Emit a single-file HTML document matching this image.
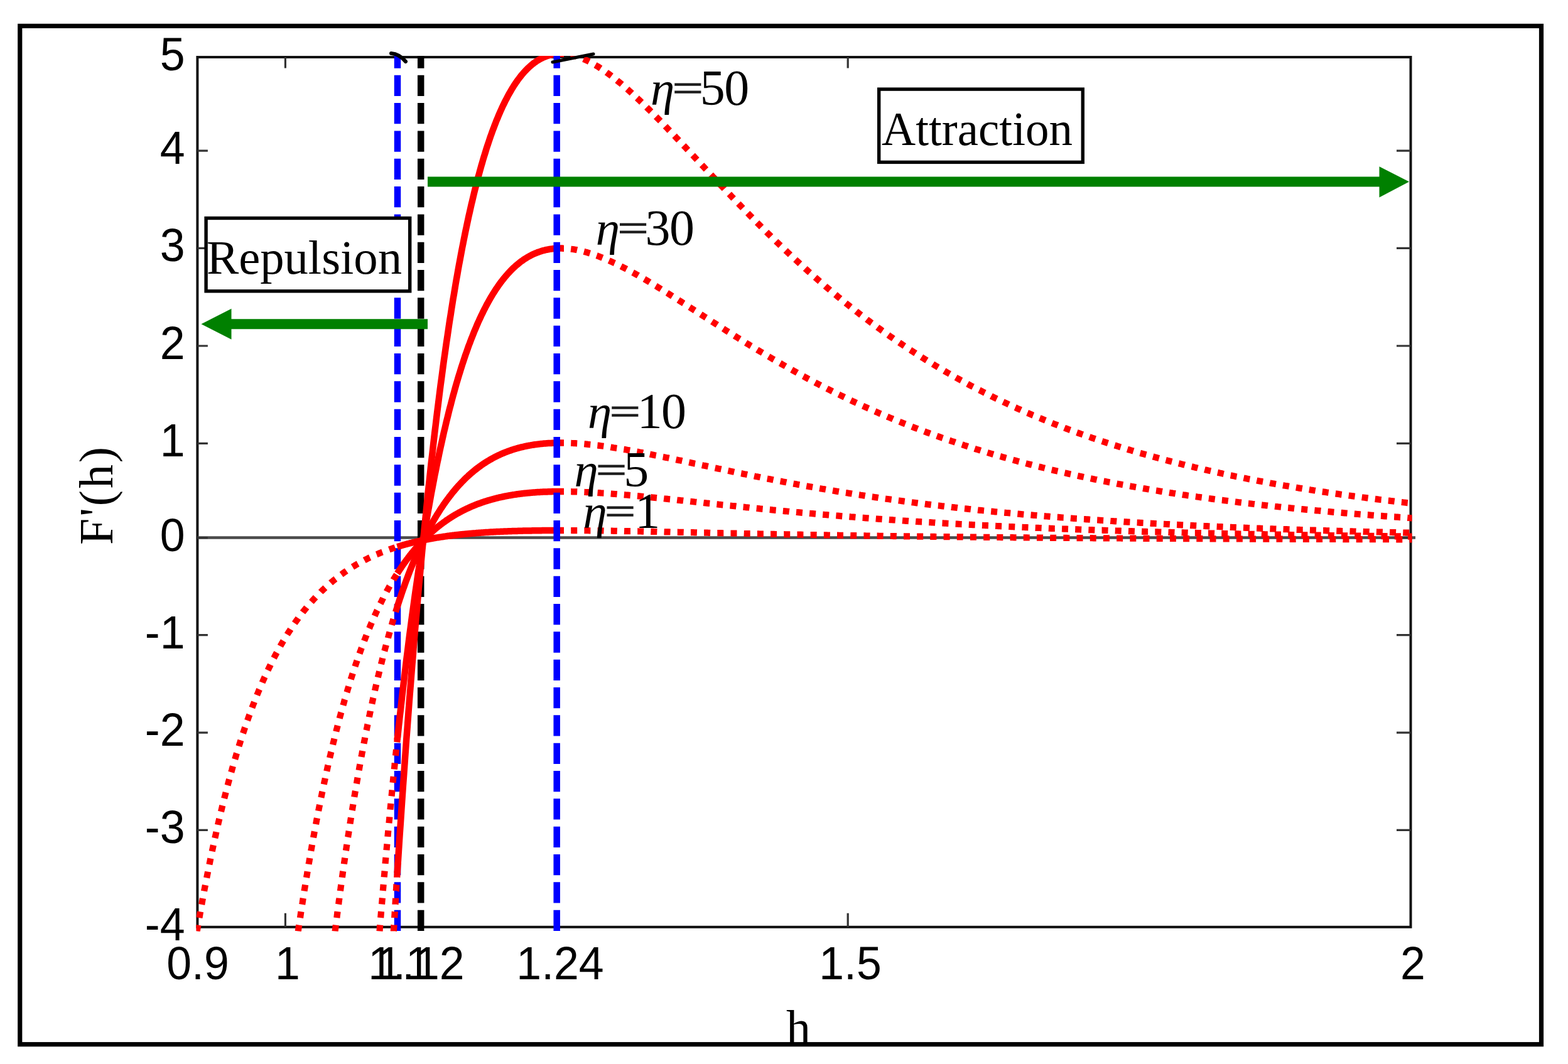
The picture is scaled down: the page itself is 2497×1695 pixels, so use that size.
<!DOCTYPE html>
<html lang="en"><head><meta charset="utf-8"><title>F'(h) versus h</title>
<style>html,body{margin:0;padding:0;background:#fff;width:2497px;height:1695px}svg{display:block;filter:blur(0.5px)}.sans{font-family:"Liberation Sans",sans-serif}.serif{font-family:"Liberation Serif",serif}</style></head><body>
<svg width="2497" height="1695" viewBox="0 0 2497 1695">
<rect x="0" y="0" width="2497" height="1695" fill="#fff"/>
<defs><clipPath id="plot"><rect x="312.4" y="89.0" width="1936.1" height="1394.8"/></clipPath></defs>
<rect x="314.4" y="91.0" width="1932.1" height="1385.8" fill="none" stroke="#111" stroke-width="4"/>
<line x1="314.4" y1="856.6" x2="2254" y2="856.6" stroke="#4a4a4a" stroke-width="4.5"/>
<path d="M314.4 240.2h16.5M2246.5 240.2h-22.5M314.4 395.4h16.5M2246.5 395.4h-22.5M314.4 551.0h16.5M2246.5 551.0h-22.5M314.4 706.4h16.5M2246.5 706.4h-22.5M314.4 856.6h16.5M2246.5 856.6h-22.5M314.4 1011.6h16.5M2246.5 1011.6h-22.5M314.4 1167.1h16.5M2246.5 1167.1h-22.5M314.4 1322.4h16.5M2246.5 1322.4h-22.5M454.4 91.0v17.5M454.4 1476.8v-22M1350.2 91.0v17.5M1350.2 1476.8v-22" fill="none" stroke="#333" stroke-width="3.2"/>
<g clip-path="url(#plot)">
<line x1="633.0" y1="75.4" x2="633.0" y2="1483" stroke="#0000ff" stroke-width="10.5" stroke-dasharray="33.3 11.03"/>
<line x1="670.2" y1="75.4" x2="670.2" y2="1483" stroke="#000" stroke-width="10.5" stroke-dasharray="33.3 11.03"/>
<path d="M313.7 1483.5 L314.8 1477.2 L315.8 1471.0 L316.9 1464.9 L318.0 1458.8 L319.0 1452.8 L320.1 1446.8 L321.2 1440.9 L322.2 1435.1 L323.3 1429.3 L324.4 1423.6 L325.4 1417.9 L326.5 1412.2 L327.6 1406.7 L328.6 1401.2 L329.7 1395.7 L330.8 1390.3 L331.8 1384.9 L332.9 1379.6 L334.0 1374.4 L335.0 1369.2 L336.1 1364.0 L337.2 1358.9 L338.2 1353.9 L339.3 1348.9 L340.4 1343.9 L341.4 1339.0 L342.5 1334.2 L343.6 1329.4 L344.6 1324.6 L345.7 1319.9 L346.8 1315.2 L347.8 1310.6 L348.9 1306.0 L350.0 1301.4 L351.0 1297.0 L352.1 1292.5 L353.2 1288.1 L354.2 1283.7 L355.3 1279.4 L356.4 1275.1 L357.4 1270.9 L358.5 1266.7 L359.6 1262.5 L360.6 1258.4 L361.7 1254.3 L362.8 1250.3 L363.8 1246.3 L364.9 1242.3 L366.0 1238.4 L367.0 1234.5 L368.1 1230.7 L369.2 1226.9 L370.2 1223.1 L371.3 1219.4 L372.4 1215.6 L373.4 1212.0 L374.5 1208.4 L375.6 1204.8 L376.6 1201.2 L377.7 1197.7 L378.8 1194.2 L379.8 1190.7 L380.9 1187.3 L382.0 1183.9 L383.0 1180.5 L384.1 1177.2 L385.2 1173.9 L386.2 1170.6 L387.3 1167.4 L388.4 1164.2 L389.4 1161.0 L390.5 1157.9 L391.6 1154.8 L392.6 1151.7 L393.7 1148.7 L394.8 1145.6 L395.8 1142.6 L396.9 1139.7 L398.0 1136.7 L399.0 1133.8 L400.1 1131.0 L401.2 1128.1 L402.2 1125.3 L403.3 1122.5 L404.4 1119.7 L405.4 1117.0 L406.5 1114.3 L407.6 1111.6 L408.6 1108.9 L409.7 1106.3 L410.8 1103.6 L411.8 1101.1 L412.9 1098.5 L414.0 1096.0 L415.0 1093.4 L416.1 1090.9 L417.2 1088.5 L418.2 1086.0 L419.3 1083.6 L420.4 1081.2 L421.4 1078.8 L422.5 1076.5 L423.6 1074.2 L424.6 1071.9 L425.7 1069.6 L426.8 1067.3 L427.8 1065.1 L428.9 1062.8 L430.0 1060.7 L431.0 1058.5 L432.1 1056.3 L433.2 1054.2 L434.2 1052.1 L435.3 1050.0 L436.4 1047.9 L437.4 1045.8 L438.5 1043.8 L439.6 1041.8 L440.6 1039.8 L441.7 1037.8 L442.8 1035.9 L443.8 1033.9 L444.9 1032.0 L446.0 1030.1 L447.0 1028.2 L448.1 1026.3 L449.2 1024.5 L450.2 1022.7 L451.3 1020.9 L452.4 1019.1 L453.4 1017.3 L454.5 1015.5 L455.6 1013.8 L456.6 1012.1 L457.7 1010.3 L458.8 1008.6 L459.8 1007.0 L460.9 1005.3 L462.0 1003.7 L463.0 1002.0 L464.1 1000.4 L465.2 998.8 L466.2 997.2 L467.3 995.7 L468.4 994.1 L469.4 992.6 L470.5 991.1 L471.6 989.5 L472.6 988.0 L473.7 986.6 L474.8 985.1 L475.8 983.6 L476.9 982.2 L478.0 980.8 L479.0 979.4 L480.1 978.0 L481.2 976.6 L482.2 975.2 L483.3 973.9 L484.4 972.5 L485.4 971.2 L486.5 969.9 L487.6 968.6 L488.6 967.3 L489.7 966.0 L490.8 964.7 L491.8 963.5 L492.9 962.2 L494.0 961.0 L495.0 959.8 L496.1 958.6 L497.2 957.4 L498.2 956.2 L499.3 955.0 L500.4 953.9 L501.4 952.7 L502.5 951.6 L503.6 950.4 L504.6 949.3 L505.7 948.2 L506.8 947.1 L507.8 946.0 L508.9 945.0 L510.0 943.9 L511.0 942.8 L512.1 941.8 L513.2 940.8 L514.2 939.7 L515.3 938.7 L516.4 937.7 L517.4 936.7 L518.5 935.7 L519.6 934.8 L520.6 933.8 L521.7 932.8 L522.8 931.9 L523.8 931.0 L524.9 930.0 L526.0 929.1 L527.0 928.2 L528.1 927.3 L529.2 926.4 L530.2 925.5 L531.3 924.6 L532.4 923.8 L533.4 922.9 L534.5 922.1 L535.6 921.2 L536.6 920.4 L537.7 919.6 L538.8 918.7 L539.8 917.9 L540.9 917.1 L542.0 916.3 L543.0 915.6 L544.1 914.8 L545.2 914.0 L546.2 913.2 L547.3 912.5 L548.4 911.7 L549.4 911.0 L550.5 910.3 L551.6 909.5 L552.6 908.8 L553.7 908.1 L554.8 907.4 L555.8 906.7 L556.9 906.0 L558.0 905.3 L559.0 904.6 L560.1 904.0 L561.2 903.3 L562.2 902.7 L563.3 902.0 L564.4 901.4 L565.4 900.7 L566.5 900.1 L567.6 899.5 L568.6 898.8 L569.7 898.2 L570.8 897.6 L571.8 897.0 L572.9 896.4 L574.0 895.8 L575.0 895.2 L576.1 894.7 L577.2 894.1 L578.2 893.5 L579.3 893.0 L580.4 892.4 L581.4 891.9 L582.5 891.3 L583.6 890.8 L584.6 890.3 L585.7 889.7 L586.8 889.2 L587.8 888.7 L588.9 888.2 L590.0 887.7 L591.1 887.2 L592.1 886.7 L593.2 886.2 L594.3 885.7 L595.3 885.2 L596.4 884.7 L597.5 884.3 L598.5 883.8 L599.6 883.3 L600.7 882.9 L601.7 882.4 L602.8 882.0 L603.9 881.5 L604.9 881.1 L606.0 880.6 L607.1 880.2 L608.1 879.8 L609.2 879.4 L610.3 878.9 L611.3 878.5 L612.4 878.1 L613.5 877.7 L614.5 877.3 L615.6 876.9 L616.7 876.5 L617.7 876.1 L618.8 875.8 L619.9 875.4 L620.9 875.0 L622.0 874.6 L623.1 874.3 L624.1 873.9 L625.2 873.5 L626.3 873.2 L627.3 872.8 L628.4 872.5 L629.5 872.1 L630.5 871.8 L631.6 871.4 L632.7 871.1 L633.7 870.8" fill="none" stroke="#ff0000" stroke-width="10.2" stroke-dasharray="10 11.6"/>
<path d="M898.0 845.0 L900.3 845.0 L902.5 845.0 L904.8 845.0 L907.0 845.0 L909.3 845.0 L911.6 845.1 L913.8 845.1 L916.1 845.1 L918.4 845.1 L920.6 845.1 L922.9 845.1 L925.1 845.1 L927.4 845.2 L929.7 845.2 L931.9 845.2 L934.2 845.2 L936.4 845.2 L938.7 845.3 L941.0 845.3 L943.2 845.3 L945.5 845.3 L947.7 845.4 L950.0 845.4 L952.3 845.4 L954.5 845.4 L956.8 845.5 L959.1 845.5 L961.3 845.5 L963.6 845.6 L965.8 845.6 L968.1 845.6 L970.4 845.7 L972.6 845.7 L974.9 845.7 L977.1 845.8 L979.4 845.8 L981.7 845.8 L983.9 845.9 L986.2 845.9 L988.5 845.9 L990.7 846.0 L993.0 846.0 L995.2 846.1 L997.5 846.1 L999.8 846.1 L1002.0 846.2 L1004.3 846.2 L1006.5 846.3 L1008.8 846.3 L1011.1 846.3 L1013.3 846.4 L1015.6 846.4 L1017.8 846.5 L1020.1 846.5 L1022.4 846.6 L1024.6 846.6 L1026.9 846.7 L1029.2 846.7 L1031.4 846.7 L1033.7 846.8 L1035.9 846.8 L1038.2 846.9 L1040.5 846.9 L1042.7 847.0 L1045.0 847.0 L1047.2 847.1 L1049.5 847.1 L1051.8 847.2 L1054.0 847.2 L1056.3 847.2 L1058.6 847.3 L1060.8 847.3 L1063.1 847.4 L1065.3 847.4 L1067.6 847.5 L1069.9 847.5 L1072.1 847.6 L1074.4 847.6 L1076.6 847.7 L1078.9 847.7 L1081.2 847.8 L1083.4 847.8 L1085.7 847.9 L1087.9 847.9 L1090.2 848.0 L1092.5 848.0 L1094.7 848.1 L1097.0 848.1 L1099.3 848.2 L1101.5 848.2 L1103.8 848.2 L1106.0 848.3 L1108.3 848.3 L1110.6 848.4 L1112.8 848.4 L1115.1 848.5 L1117.3 848.5 L1119.6 848.6 L1121.9 848.6 L1124.1 848.7 L1126.4 848.7 L1128.7 848.8 L1130.9 848.8 L1133.2 848.9 L1135.4 848.9 L1137.7 849.0 L1140.0 849.0 L1142.2 849.1 L1144.5 849.1 L1146.7 849.2 L1149.0 849.2 L1151.3 849.3 L1153.5 849.3 L1155.8 849.4 L1158.0 849.4 L1160.3 849.5 L1162.6 849.5 L1164.8 849.5 L1167.1 849.6 L1169.4 849.6 L1171.6 849.7 L1173.9 849.7 L1176.1 849.8 L1178.4 849.8 L1180.7 849.9 L1182.9 849.9 L1185.2 850.0 L1187.4 850.0 L1189.7 850.1 L1192.0 850.1 L1194.2 850.2 L1196.5 850.2 L1198.8 850.2 L1201.0 850.3 L1203.3 850.3 L1205.5 850.4 L1207.8 850.4 L1210.1 850.5 L1212.3 850.5 L1214.6 850.6 L1216.8 850.6 L1219.1 850.7 L1221.4 850.7 L1223.6 850.7 L1225.9 850.8 L1228.1 850.8 L1230.4 850.9 L1232.7 850.9 L1234.9 851.0 L1237.2 851.0 L1239.5 851.0 L1241.7 851.1 L1244.0 851.1 L1246.2 851.2 L1248.5 851.2 L1250.8 851.3 L1253.0 851.3 L1255.3 851.3 L1257.5 851.4 L1259.8 851.4 L1262.1 851.5 L1264.3 851.5 L1266.6 851.6 L1268.9 851.6 L1271.1 851.6 L1273.4 851.7 L1275.6 851.7 L1277.9 851.8 L1280.2 851.8 L1282.4 851.8 L1284.7 851.9 L1286.9 851.9 L1289.2 852.0 L1291.5 852.0 L1293.7 852.0 L1296.0 852.1 L1298.2 852.1 L1300.5 852.2 L1302.8 852.2 L1305.0 852.2 L1307.3 852.3 L1309.6 852.3 L1311.8 852.4 L1314.1 852.4 L1316.3 852.4 L1318.6 852.5 L1320.9 852.5 L1323.1 852.6 L1325.4 852.6 L1327.6 852.6 L1329.9 852.7 L1332.2 852.7 L1334.4 852.7 L1336.7 852.8 L1339.0 852.8 L1341.2 852.9 L1343.5 852.9 L1345.7 852.9 L1348.0 853.0 L1350.3 853.0 L1352.5 853.0 L1354.8 853.1 L1357.0 853.1 L1359.3 853.1 L1361.6 853.2 L1363.8 853.2 L1366.1 853.2 L1368.3 853.3 L1370.6 853.3 L1372.9 853.4 L1375.1 853.4 L1377.4 853.4 L1379.7 853.5 L1381.9 853.5 L1384.2 853.5 L1386.4 853.6 L1388.7 853.6 L1391.0 853.6 L1393.2 853.7 L1395.5 853.7 L1397.7 853.7 L1400.0 853.8 L1402.3 853.8 L1404.5 853.8 L1406.8 853.9 L1409.1 853.9 L1411.3 853.9 L1413.6 853.9 L1415.8 854.0 L1418.1 854.0 L1420.4 854.0 L1422.6 854.1 L1424.9 854.1 L1427.1 854.1 L1429.4 854.2 L1431.7 854.2 L1433.9 854.2 L1436.2 854.3 L1438.4 854.3 L1440.7 854.3 L1443.0 854.4 L1445.2 854.4 L1447.5 854.4 L1449.8 854.4 L1452.0 854.5 L1454.3 854.5 L1456.5 854.5 L1458.8 854.6 L1461.1 854.6 L1463.3 854.6 L1465.6 854.6 L1467.8 854.7 L1470.1 854.7 L1472.4 854.7 L1474.6 854.8 L1476.9 854.8 L1479.2 854.8 L1481.4 854.8 L1483.7 854.9 L1485.9 854.9 L1488.2 854.9 L1490.5 855.0 L1492.7 855.0 L1495.0 855.0 L1497.2 855.0 L1499.5 855.1 L1501.8 855.1 L1504.0 855.1 L1506.3 855.1 L1508.5 855.2 L1510.8 855.2 L1513.1 855.2 L1515.3 855.2 L1517.6 855.3 L1519.9 855.3 L1522.1 855.3 L1524.4 855.3 L1526.6 855.4 L1528.9 855.4 L1531.2 855.4 L1533.4 855.4 L1535.7 855.5 L1537.9 855.5 L1540.2 855.5 L1542.5 855.5 L1544.7 855.6 L1547.0 855.6 L1549.3 855.6 L1551.5 855.6 L1553.8 855.7 L1556.0 855.7 L1558.3 855.7 L1560.6 855.7 L1562.8 855.8 L1565.1 855.8 L1567.3 855.8 L1569.6 855.8 L1571.9 855.8 L1574.1 855.9 L1576.4 855.9 L1578.6 855.9 L1580.9 855.9 L1583.2 856.0 L1585.4 856.0 L1587.7 856.0 L1590.0 856.0 L1592.2 856.0 L1594.5 856.1 L1596.7 856.1 L1599.0 856.1 L1601.3 856.1 L1603.5 856.1 L1605.8 856.2 L1608.0 856.2 L1610.3 856.2 L1612.6 856.2 L1614.8 856.3 L1617.1 856.3 L1619.4 856.3 L1621.6 856.3 L1623.9 856.3 L1626.1 856.4 L1628.4 856.4 L1630.7 856.4 L1632.9 856.4 L1635.2 856.4 L1637.4 856.5 L1639.7 856.5 L1642.0 856.5 L1644.2 856.5 L1646.5 856.5 L1648.7 856.6 L1651.0 856.6 L1653.3 856.6 L1655.5 856.6 L1657.8 856.6 L1660.1 856.6 L1662.3 856.7 L1664.6 856.7 L1666.8 856.7 L1669.1 856.7 L1671.4 856.7 L1673.6 856.8 L1675.9 856.8 L1678.1 856.8 L1680.4 856.8 L1682.7 856.8 L1684.9 856.8 L1687.2 856.9 L1689.5 856.9 L1691.7 856.9 L1694.0 856.9 L1696.2 856.9 L1698.5 856.9 L1700.8 857.0 L1703.0 857.0 L1705.3 857.0 L1707.5 857.0 L1709.8 857.0 L1712.1 857.0 L1714.3 857.1 L1716.6 857.1 L1718.8 857.1 L1721.1 857.1 L1723.4 857.1 L1725.6 857.1 L1727.9 857.2 L1730.2 857.2 L1732.4 857.2 L1734.7 857.2 L1736.9 857.2 L1739.2 857.2 L1741.5 857.3 L1743.7 857.3 L1746.0 857.3 L1748.2 857.3 L1750.5 857.3 L1752.8 857.3 L1755.0 857.3 L1757.3 857.4 L1759.6 857.4 L1761.8 857.4 L1764.1 857.4 L1766.3 857.4 L1768.6 857.4 L1770.9 857.5 L1773.1 857.5 L1775.4 857.5 L1777.6 857.5 L1779.9 857.5 L1782.2 857.5 L1784.4 857.5 L1786.7 857.6 L1788.9 857.6 L1791.2 857.6 L1793.5 857.6 L1795.7 857.6 L1798.0 857.6 L1800.3 857.6 L1802.5 857.6 L1804.8 857.7 L1807.0 857.7 L1809.3 857.7 L1811.6 857.7 L1813.8 857.7 L1816.1 857.7 L1818.3 857.7 L1820.6 857.8 L1822.9 857.8 L1825.1 857.8 L1827.4 857.8 L1829.7 857.8 L1831.9 857.8 L1834.2 857.8 L1836.4 857.8 L1838.7 857.9 L1841.0 857.9 L1843.2 857.9 L1845.5 857.9 L1847.7 857.9 L1850.0 857.9 L1852.3 857.9 L1854.5 857.9 L1856.8 858.0 L1859.0 858.0 L1861.3 858.0 L1863.6 858.0 L1865.8 858.0 L1868.1 858.0 L1870.4 858.0 L1872.6 858.0 L1874.9 858.0 L1877.1 858.1 L1879.4 858.1 L1881.7 858.1 L1883.9 858.1 L1886.2 858.1 L1888.4 858.1 L1890.7 858.1 L1893.0 858.1 L1895.2 858.1 L1897.5 858.2 L1899.8 858.2 L1902.0 858.2 L1904.3 858.2 L1906.5 858.2 L1908.8 858.2 L1911.1 858.2 L1913.3 858.2 L1915.6 858.2 L1917.8 858.3 L1920.1 858.3 L1922.4 858.3 L1924.6 858.3 L1926.9 858.3 L1929.1 858.3 L1931.4 858.3 L1933.7 858.3 L1935.9 858.3 L1938.2 858.3 L1940.5 858.4 L1942.7 858.4 L1945.0 858.4 L1947.2 858.4 L1949.5 858.4 L1951.8 858.4 L1954.0 858.4 L1956.3 858.4 L1958.5 858.4 L1960.8 858.4 L1963.1 858.4 L1965.3 858.5 L1967.6 858.5 L1969.9 858.5 L1972.1 858.5 L1974.4 858.5 L1976.6 858.5 L1978.9 858.5 L1981.2 858.5 L1983.4 858.5 L1985.7 858.5 L1987.9 858.5 L1990.2 858.6 L1992.5 858.6 L1994.7 858.6 L1997.0 858.6 L1999.2 858.6 L2001.5 858.6 L2003.8 858.6 L2006.0 858.6 L2008.3 858.6 L2010.6 858.6 L2012.8 858.6 L2015.1 858.7 L2017.3 858.7 L2019.6 858.7 L2021.9 858.7 L2024.1 858.7 L2026.4 858.7 L2028.6 858.7 L2030.9 858.7 L2033.2 858.7 L2035.4 858.7 L2037.7 858.7 L2040.0 858.7 L2042.2 858.7 L2044.5 858.8 L2046.7 858.8 L2049.0 858.8 L2051.3 858.8 L2053.5 858.8 L2055.8 858.8 L2058.0 858.8 L2060.3 858.8 L2062.6 858.8 L2064.8 858.8 L2067.1 858.8 L2069.3 858.8 L2071.6 858.8 L2073.9 858.9 L2076.1 858.9 L2078.4 858.9 L2080.7 858.9 L2082.9 858.9 L2085.2 858.9 L2087.4 858.9 L2089.7 858.9 L2092.0 858.9 L2094.2 858.9 L2096.5 858.9 L2098.7 858.9 L2101.0 858.9 L2103.3 858.9 L2105.5 859.0 L2107.8 859.0 L2110.1 859.0 L2112.3 859.0 L2114.6 859.0 L2116.8 859.0 L2119.1 859.0 L2121.4 859.0 L2123.6 859.0 L2125.9 859.0 L2128.1 859.0 L2130.4 859.0 L2132.7 859.0 L2134.9 859.0 L2137.2 859.0 L2139.4 859.1 L2141.7 859.1 L2144.0 859.1 L2146.2 859.1 L2148.5 859.1 L2150.8 859.1 L2153.0 859.1 L2155.3 859.1 L2157.5 859.1 L2159.8 859.1 L2162.1 859.1 L2164.3 859.1 L2166.6 859.1 L2168.8 859.1 L2171.1 859.1 L2173.4 859.1 L2175.6 859.2 L2177.9 859.2 L2180.2 859.2 L2182.4 859.2 L2184.7 859.2 L2186.9 859.2 L2189.2 859.2 L2191.5 859.2 L2193.7 859.2 L2196.0 859.2 L2198.2 859.2 L2200.5 859.2 L2202.8 859.2 L2205.0 859.2 L2207.3 859.2 L2209.5 859.2 L2211.8 859.2 L2214.1 859.2 L2216.3 859.3 L2218.6 859.3 L2220.9 859.3 L2223.1 859.3 L2225.4 859.3 L2227.6 859.3 L2229.9 859.3 L2232.2 859.3 L2234.4 859.3 L2236.7 859.3 L2238.9 859.3 L2241.2 859.3 L2243.5 859.3 L2245.7 859.3 L2248.0 859.3 L2250.3 859.3 L2252.5 859.3 L2254.8 859.3" fill="none" stroke="#ff0000" stroke-width="10.2" stroke-dasharray="10 11.2" stroke-dashoffset="10"/>
<path d="M474.8 1483.5 L475.3 1479.9 L475.8 1476.3 L476.4 1472.7 L476.9 1469.1 L477.4 1465.6 L478.0 1462.1 L478.5 1458.6 L479.0 1455.1 L479.5 1451.6 L480.1 1448.1 L480.6 1444.7 L481.1 1441.3 L481.7 1437.8 L482.2 1434.4 L482.7 1431.1 L483.3 1427.7 L483.8 1424.4 L484.3 1421.0 L484.8 1417.7 L485.4 1414.4 L485.9 1411.1 L486.4 1407.9 L487.0 1404.6 L487.5 1401.4 L488.0 1398.2 L488.6 1395.0 L489.1 1391.8 L489.6 1388.6 L490.1 1385.4 L490.7 1382.3 L491.2 1379.2 L491.7 1376.0 L492.3 1372.9 L492.8 1369.9 L493.3 1366.8 L493.8 1363.7 L494.4 1360.7 L494.9 1357.7 L495.4 1354.7 L496.0 1351.7 L496.5 1348.7 L497.0 1345.7 L497.6 1342.8 L498.1 1339.8 L498.6 1336.9 L499.1 1334.0 L499.7 1331.1 L500.2 1328.2 L500.7 1325.3 L501.3 1322.5 L501.8 1319.6 L502.3 1316.8 L502.9 1314.0 L503.4 1311.2 L503.9 1308.4 L504.4 1305.6 L505.0 1302.9 L505.5 1300.1 L506.0 1297.4 L506.6 1294.7 L507.1 1292.0 L507.6 1289.3 L508.2 1286.6 L508.7 1283.9 L509.2 1281.3 L509.7 1278.6 L510.3 1276.0 L510.8 1273.4 L511.3 1270.8 L511.9 1268.2 L512.4 1265.6 L512.9 1263.0 L513.5 1260.5 L514.0 1257.9 L514.5 1255.4 L515.0 1252.9 L515.6 1250.4 L516.1 1247.9 L516.6 1245.4 L517.2 1242.9 L517.7 1240.5 L518.2 1238.0 L518.8 1235.6 L519.3 1233.2 L519.8 1230.8 L520.3 1228.4 L520.9 1226.0 L521.4 1223.6 L521.9 1221.2 L522.5 1218.9 L523.0 1216.5 L523.5 1214.2 L524.0 1211.9 L524.6 1209.6 L525.1 1207.3 L525.6 1205.0 L526.2 1202.7 L526.7 1200.5 L527.2 1198.2 L527.8 1196.0 L528.3 1193.7 L528.8 1191.5 L529.3 1189.3 L529.9 1187.1 L530.4 1184.9 L530.9 1182.7 L531.5 1180.6 L532.0 1178.4 L532.5 1176.3 L533.1 1174.1 L533.6 1172.0 L534.1 1169.9 L534.6 1167.8 L535.2 1165.7 L535.7 1163.6 L536.2 1161.5 L536.8 1159.5 L537.3 1157.4 L537.8 1155.4 L538.4 1153.4 L538.9 1151.3 L539.4 1149.3 L539.9 1147.3 L540.5 1145.3 L541.0 1143.3 L541.5 1141.4 L542.1 1139.4 L542.6 1137.4 L543.1 1135.5 L543.7 1133.6 L544.2 1131.6 L544.7 1129.7 L545.2 1127.8 L545.8 1125.9 L546.3 1124.0 L546.8 1122.1 L547.4 1120.3 L547.9 1118.4 L548.4 1116.5 L548.9 1114.7 L549.5 1112.9 L550.0 1111.0 L550.5 1109.2 L551.1 1107.4 L551.6 1105.6 L552.1 1103.8 L552.7 1102.0 L553.2 1100.3 L553.7 1098.5 L554.2 1096.8 L554.8 1095.0 L555.3 1093.3 L555.8 1091.5 L556.4 1089.8 L556.9 1088.1 L557.4 1086.4 L558.0 1084.7 L558.5 1083.0 L559.0 1081.3 L559.5 1079.7 L560.1 1078.0 L560.6 1076.3 L561.1 1074.7 L561.7 1073.1 L562.2 1071.4 L562.7 1069.8 L563.3 1068.2 L563.8 1066.6 L564.3 1065.0 L564.8 1063.4 L565.4 1061.8 L565.9 1060.2 L566.4 1058.7 L567.0 1057.1 L567.5 1055.6 L568.0 1054.0 L568.6 1052.5 L569.1 1050.9 L569.6 1049.4 L570.1 1047.9 L570.7 1046.4 L571.2 1044.9 L571.7 1043.4 L572.3 1041.9 L572.8 1040.5 L573.3 1039.0 L573.9 1037.5 L574.4 1036.1 L574.9 1034.6 L575.4 1033.2 L576.0 1031.7 L576.5 1030.3 L577.0 1028.9 L577.6 1027.5 L578.1 1026.1 L578.6 1024.7 L579.1 1023.3 L579.7 1021.9 L580.2 1020.5 L580.7 1019.2 L581.3 1017.8 L581.8 1016.4 L582.3 1015.1 L582.9 1013.7 L583.4 1012.4 L583.9 1011.1 L584.4 1009.8 L585.0 1008.4 L585.5 1007.1 L586.0 1005.8 L586.6 1004.5 L587.1 1003.2 L587.6 1002.0 L588.2 1000.7 L588.7 999.4 L589.2 998.1 L589.7 996.9 L590.3 995.6 L590.8 994.4 L591.3 993.1 L591.9 991.9 L592.4 990.7 L592.9 989.5 L593.5 988.2 L594.0 987.0 L594.5 985.8 L595.0 984.6 L595.6 983.4 L596.1 982.3 L596.6 981.1 L597.2 979.9 L597.7 978.7 L598.2 977.6 L598.8 976.4 L599.3 975.3 L599.8 974.1 L600.3 973.0 L600.9 971.9 L601.4 970.7 L601.9 969.6 L602.5 968.5 L603.0 967.4 L603.5 966.3 L604.1 965.2 L604.6 964.1 L605.1 963.0 L605.6 961.9 L606.2 960.8 L606.7 959.8 L607.2 958.7 L607.8 957.6 L608.3 956.6 L608.8 955.5 L609.3 954.5 L609.9 953.5 L610.4 952.4 L610.9 951.4 L611.5 950.4 L612.0 949.4 L612.5 948.3 L613.1 947.3 L613.6 946.3 L614.1 945.3 L614.6 944.4 L615.2 943.4 L615.7 942.4 L616.2 941.4 L616.8 940.4 L617.3 939.5 L617.8 938.5 L618.4 937.5 L618.9 936.6 L619.4 935.6 L619.9 934.7 L620.5 933.8 L621.0 932.8 L621.5 931.9 L622.1 931.0 L622.6 930.1 L623.1 929.2 L623.7 928.2 L624.2 927.3 L624.7 926.4 L625.2 925.5 L625.8 924.7 L626.3 923.8 L626.8 922.9 L627.4 922.0 L627.9 921.1 L628.4 920.3 L629.0 919.4 L629.5 918.6 L630.0 917.7 L630.5 916.9 L631.1 916.0 L631.6 915.2 L632.1 914.3 L632.7 913.5 L633.2 912.7 L633.7 911.8" fill="none" stroke="#ff0000" stroke-width="10.2" stroke-dasharray="10 11.6"/>
<path d="M898.0 783.0 L900.3 783.1 L902.5 783.1 L904.8 783.1 L907.0 783.2 L909.3 783.2 L911.6 783.3 L913.8 783.3 L916.1 783.4 L918.4 783.4 L920.6 783.5 L922.9 783.6 L925.1 783.7 L927.4 783.8 L929.7 783.9 L931.9 784.0 L934.2 784.1 L936.4 784.2 L938.7 784.3 L941.0 784.4 L943.2 784.5 L945.5 784.7 L947.7 784.8 L950.0 784.9 L952.3 785.1 L954.5 785.2 L956.8 785.4 L959.1 785.5 L961.3 785.7 L963.6 785.8 L965.8 786.0 L968.1 786.1 L970.4 786.3 L972.6 786.5 L974.9 786.7 L977.1 786.8 L979.4 787.0 L981.7 787.2 L983.9 787.4 L986.2 787.6 L988.5 787.7 L990.7 787.9 L993.0 788.1 L995.2 788.3 L997.5 788.5 L999.8 788.7 L1002.0 788.9 L1004.3 789.1 L1006.5 789.3 L1008.8 789.5 L1011.1 789.7 L1013.3 790.0 L1015.6 790.2 L1017.8 790.4 L1020.1 790.6 L1022.4 790.8 L1024.6 791.0 L1026.9 791.3 L1029.2 791.5 L1031.4 791.7 L1033.7 791.9 L1035.9 792.1 L1038.2 792.4 L1040.5 792.6 L1042.7 792.8 L1045.0 793.1 L1047.2 793.3 L1049.5 793.5 L1051.8 793.8 L1054.0 794.0 L1056.3 794.2 L1058.6 794.5 L1060.8 794.7 L1063.1 794.9 L1065.3 795.2 L1067.6 795.4 L1069.9 795.6 L1072.1 795.9 L1074.4 796.1 L1076.6 796.3 L1078.9 796.6 L1081.2 796.8 L1083.4 797.1 L1085.7 797.3 L1087.9 797.5 L1090.2 797.8 L1092.5 798.0 L1094.7 798.3 L1097.0 798.5 L1099.3 798.8 L1101.5 799.0 L1103.8 799.2 L1106.0 799.5 L1108.3 799.7 L1110.6 800.0 L1112.8 800.2 L1115.1 800.4 L1117.3 800.7 L1119.6 800.9 L1121.9 801.2 L1124.1 801.4 L1126.4 801.7 L1128.7 801.9 L1130.9 802.1 L1133.2 802.4 L1135.4 802.6 L1137.7 802.9 L1140.0 803.1 L1142.2 803.3 L1144.5 803.6 L1146.7 803.8 L1149.0 804.1 L1151.3 804.3 L1153.5 804.5 L1155.8 804.8 L1158.0 805.0 L1160.3 805.3 L1162.6 805.5 L1164.8 805.7 L1167.1 806.0 L1169.4 806.2 L1171.6 806.4 L1173.9 806.7 L1176.1 806.9 L1178.4 807.1 L1180.7 807.4 L1182.9 807.6 L1185.2 807.8 L1187.4 808.1 L1189.7 808.3 L1192.0 808.5 L1194.2 808.8 L1196.5 809.0 L1198.8 809.2 L1201.0 809.4 L1203.3 809.7 L1205.5 809.9 L1207.8 810.1 L1210.1 810.4 L1212.3 810.6 L1214.6 810.8 L1216.8 811.0 L1219.1 811.3 L1221.4 811.5 L1223.6 811.7 L1225.9 811.9 L1228.1 812.1 L1230.4 812.4 L1232.7 812.6 L1234.9 812.8 L1237.2 813.0 L1239.5 813.2 L1241.7 813.5 L1244.0 813.7 L1246.2 813.9 L1248.5 814.1 L1250.8 814.3 L1253.0 814.5 L1255.3 814.7 L1257.5 815.0 L1259.8 815.2 L1262.1 815.4 L1264.3 815.6 L1266.6 815.8 L1268.9 816.0 L1271.1 816.2 L1273.4 816.4 L1275.6 816.6 L1277.9 816.8 L1280.2 817.0 L1282.4 817.2 L1284.7 817.4 L1286.9 817.6 L1289.2 817.8 L1291.5 818.0 L1293.7 818.2 L1296.0 818.4 L1298.2 818.6 L1300.5 818.8 L1302.8 819.0 L1305.0 819.2 L1307.3 819.4 L1309.6 819.6 L1311.8 819.8 L1314.1 820.0 L1316.3 820.2 L1318.6 820.4 L1320.9 820.6 L1323.1 820.8 L1325.4 821.0 L1327.6 821.2 L1329.9 821.3 L1332.2 821.5 L1334.4 821.7 L1336.7 821.9 L1339.0 822.1 L1341.2 822.3 L1343.5 822.5 L1345.7 822.6 L1348.0 822.8 L1350.3 823.0 L1352.5 823.2 L1354.8 823.4 L1357.0 823.5 L1359.3 823.7 L1361.6 823.9 L1363.8 824.1 L1366.1 824.2 L1368.3 824.4 L1370.6 824.6 L1372.9 824.8 L1375.1 824.9 L1377.4 825.1 L1379.7 825.3 L1381.9 825.4 L1384.2 825.6 L1386.4 825.8 L1388.7 826.0 L1391.0 826.1 L1393.2 826.3 L1395.5 826.5 L1397.7 826.6 L1400.0 826.8 L1402.3 826.9 L1404.5 827.1 L1406.8 827.3 L1409.1 827.4 L1411.3 827.6 L1413.6 827.7 L1415.8 827.9 L1418.1 828.1 L1420.4 828.2 L1422.6 828.4 L1424.9 828.5 L1427.1 828.7 L1429.4 828.8 L1431.7 829.0 L1433.9 829.2 L1436.2 829.3 L1438.4 829.5 L1440.7 829.6 L1443.0 829.8 L1445.2 829.9 L1447.5 830.1 L1449.8 830.2 L1452.0 830.4 L1454.3 830.5 L1456.5 830.6 L1458.8 830.8 L1461.1 830.9 L1463.3 831.1 L1465.6 831.2 L1467.8 831.4 L1470.1 831.5 L1472.4 831.6 L1474.6 831.8 L1476.9 831.9 L1479.2 832.1 L1481.4 832.2 L1483.7 832.3 L1485.9 832.5 L1488.2 832.6 L1490.5 832.8 L1492.7 832.9 L1495.0 833.0 L1497.2 833.2 L1499.5 833.3 L1501.8 833.4 L1504.0 833.6 L1506.3 833.7 L1508.5 833.8 L1510.8 833.9 L1513.1 834.1 L1515.3 834.2 L1517.6 834.3 L1519.9 834.5 L1522.1 834.6 L1524.4 834.7 L1526.6 834.8 L1528.9 835.0 L1531.2 835.1 L1533.4 835.2 L1535.7 835.3 L1537.9 835.5 L1540.2 835.6 L1542.5 835.7 L1544.7 835.8 L1547.0 835.9 L1549.3 836.1 L1551.5 836.2 L1553.8 836.3 L1556.0 836.4 L1558.3 836.5 L1560.6 836.6 L1562.8 836.8 L1565.1 836.9 L1567.3 837.0 L1569.6 837.1 L1571.9 837.2 L1574.1 837.3 L1576.4 837.4 L1578.6 837.6 L1580.9 837.7 L1583.2 837.8 L1585.4 837.9 L1587.7 838.0 L1590.0 838.1 L1592.2 838.2 L1594.5 838.3 L1596.7 838.4 L1599.0 838.5 L1601.3 838.6 L1603.5 838.7 L1605.8 838.9 L1608.0 839.0 L1610.3 839.1 L1612.6 839.2 L1614.8 839.3 L1617.1 839.4 L1619.4 839.5 L1621.6 839.6 L1623.9 839.7 L1626.1 839.8 L1628.4 839.9 L1630.7 840.0 L1632.9 840.1 L1635.2 840.2 L1637.4 840.3 L1639.7 840.4 L1642.0 840.5 L1644.2 840.6 L1646.5 840.7 L1648.7 840.8 L1651.0 840.9 L1653.3 840.9 L1655.5 841.0 L1657.8 841.1 L1660.1 841.2 L1662.3 841.3 L1664.6 841.4 L1666.8 841.5 L1669.1 841.6 L1671.4 841.7 L1673.6 841.8 L1675.9 841.9 L1678.1 842.0 L1680.4 842.0 L1682.7 842.1 L1684.9 842.2 L1687.2 842.3 L1689.5 842.4 L1691.7 842.5 L1694.0 842.6 L1696.2 842.7 L1698.5 842.7 L1700.8 842.8 L1703.0 842.9 L1705.3 843.0 L1707.5 843.1 L1709.8 843.2 L1712.1 843.2 L1714.3 843.3 L1716.6 843.4 L1718.8 843.5 L1721.1 843.6 L1723.4 843.7 L1725.6 843.7 L1727.9 843.8 L1730.2 843.9 L1732.4 844.0 L1734.7 844.1 L1736.9 844.1 L1739.2 844.2 L1741.5 844.3 L1743.7 844.4 L1746.0 844.4 L1748.2 844.5 L1750.5 844.6 L1752.8 844.7 L1755.0 844.7 L1757.3 844.8 L1759.6 844.9 L1761.8 845.0 L1764.1 845.0 L1766.3 845.1 L1768.6 845.2 L1770.9 845.3 L1773.1 845.3 L1775.4 845.4 L1777.6 845.5 L1779.9 845.5 L1782.2 845.6 L1784.4 845.7 L1786.7 845.8 L1788.9 845.8 L1791.2 845.9 L1793.5 846.0 L1795.7 846.0 L1798.0 846.1 L1800.3 846.2 L1802.5 846.2 L1804.8 846.3 L1807.0 846.4 L1809.3 846.4 L1811.6 846.5 L1813.8 846.6 L1816.1 846.6 L1818.3 846.7 L1820.6 846.8 L1822.9 846.8 L1825.1 846.9 L1827.4 847.0 L1829.7 847.0 L1831.9 847.1 L1834.2 847.1 L1836.4 847.2 L1838.7 847.3 L1841.0 847.3 L1843.2 847.4 L1845.5 847.5 L1847.7 847.5 L1850.0 847.6 L1852.3 847.6 L1854.5 847.7 L1856.8 847.8 L1859.0 847.8 L1861.3 847.9 L1863.6 847.9 L1865.8 848.0 L1868.1 848.0 L1870.4 848.1 L1872.6 848.2 L1874.9 848.2 L1877.1 848.3 L1879.4 848.3 L1881.7 848.4 L1883.9 848.4 L1886.2 848.5 L1888.4 848.6 L1890.7 848.6 L1893.0 848.7 L1895.2 848.7 L1897.5 848.8 L1899.8 848.8 L1902.0 848.9 L1904.3 848.9 L1906.5 849.0 L1908.8 849.0 L1911.1 849.1 L1913.3 849.2 L1915.6 849.2 L1917.8 849.3 L1920.1 849.3 L1922.4 849.4 L1924.6 849.4 L1926.9 849.5 L1929.1 849.5 L1931.4 849.6 L1933.7 849.6 L1935.9 849.7 L1938.2 849.7 L1940.5 849.8 L1942.7 849.8 L1945.0 849.9 L1947.2 849.9 L1949.5 850.0 L1951.8 850.0 L1954.0 850.1 L1956.3 850.1 L1958.5 850.1 L1960.8 850.2 L1963.1 850.2 L1965.3 850.3 L1967.6 850.3 L1969.9 850.4 L1972.1 850.4 L1974.4 850.5 L1976.6 850.5 L1978.9 850.6 L1981.2 850.6 L1983.4 850.7 L1985.7 850.7 L1987.9 850.7 L1990.2 850.8 L1992.5 850.8 L1994.7 850.9 L1997.0 850.9 L1999.2 851.0 L2001.5 851.0 L2003.8 851.0 L2006.0 851.1 L2008.3 851.1 L2010.6 851.2 L2012.8 851.2 L2015.1 851.3 L2017.3 851.3 L2019.6 851.3 L2021.9 851.4 L2024.1 851.4 L2026.4 851.5 L2028.6 851.5 L2030.9 851.5 L2033.2 851.6 L2035.4 851.6 L2037.7 851.7 L2040.0 851.7 L2042.2 851.7 L2044.5 851.8 L2046.7 851.8 L2049.0 851.9 L2051.3 851.9 L2053.5 851.9 L2055.8 852.0 L2058.0 852.0 L2060.3 852.1 L2062.6 852.1 L2064.8 852.1 L2067.1 852.2 L2069.3 852.2 L2071.6 852.2 L2073.9 852.3 L2076.1 852.3 L2078.4 852.4 L2080.7 852.4 L2082.9 852.4 L2085.2 852.5 L2087.4 852.5 L2089.7 852.5 L2092.0 852.6 L2094.2 852.6 L2096.5 852.6 L2098.7 852.7 L2101.0 852.7 L2103.3 852.7 L2105.5 852.8 L2107.8 852.8 L2110.1 852.8 L2112.3 852.9 L2114.6 852.9 L2116.8 852.9 L2119.1 853.0 L2121.4 853.0 L2123.6 853.0 L2125.9 853.1 L2128.1 853.1 L2130.4 853.1 L2132.7 853.2 L2134.9 853.2 L2137.2 853.2 L2139.4 853.3 L2141.7 853.3 L2144.0 853.3 L2146.2 853.4 L2148.5 853.4 L2150.8 853.4 L2153.0 853.5 L2155.3 853.5 L2157.5 853.5 L2159.8 853.6 L2162.1 853.6 L2164.3 853.6 L2166.6 853.6 L2168.8 853.7 L2171.1 853.7 L2173.4 853.7 L2175.6 853.8 L2177.9 853.8 L2180.2 853.8 L2182.4 853.8 L2184.7 853.9 L2186.9 853.9 L2189.2 853.9 L2191.5 854.0 L2193.7 854.0 L2196.0 854.0 L2198.2 854.0 L2200.5 854.1 L2202.8 854.1 L2205.0 854.1 L2207.3 854.2 L2209.5 854.2 L2211.8 854.2 L2214.1 854.2 L2216.3 854.3 L2218.6 854.3 L2220.9 854.3 L2223.1 854.3 L2225.4 854.4 L2227.6 854.4 L2229.9 854.4 L2232.2 854.5 L2234.4 854.5 L2236.7 854.5 L2238.9 854.5 L2241.2 854.6 L2243.5 854.6 L2245.7 854.6 L2248.0 854.6 L2250.3 854.7 L2252.5 854.7 L2254.8 854.7" fill="none" stroke="#ff0000" stroke-width="10.2" stroke-dasharray="10 11.2" stroke-dashoffset="10"/>
<path d="M533.6 1483.5 L533.9 1480.8 L534.3 1478.2 L534.6 1475.5 L534.9 1472.9 L535.3 1470.3 L535.6 1467.6 L535.9 1465.0 L536.3 1462.4 L536.6 1459.8 L536.9 1457.2 L537.3 1454.6 L537.6 1452.0 L537.9 1449.5 L538.3 1446.9 L538.6 1444.4 L538.9 1441.8 L539.3 1439.3 L539.6 1436.7 L539.9 1434.2 L540.3 1431.7 L540.6 1429.2 L540.9 1426.7 L541.3 1424.2 L541.6 1421.7 L541.9 1419.2 L542.3 1416.8 L542.6 1414.3 L542.9 1411.9 L543.3 1409.4 L543.6 1407.0 L543.9 1404.5 L544.3 1402.1 L544.6 1399.7 L544.9 1397.3 L545.3 1394.9 L545.6 1392.5 L545.9 1390.1 L546.3 1387.7 L546.6 1385.4 L546.9 1383.0 L547.3 1380.6 L547.6 1378.3 L547.9 1375.9 L548.3 1373.6 L548.6 1371.3 L548.9 1369.0 L549.3 1366.6 L549.6 1364.3 L549.9 1362.0 L550.3 1359.7 L550.6 1357.5 L550.9 1355.2 L551.3 1352.9 L551.6 1350.6 L551.9 1348.4 L552.3 1346.1 L552.6 1343.9 L552.9 1341.7 L553.3 1339.4 L553.6 1337.2 L553.9 1335.0 L554.3 1332.8 L554.6 1330.6 L555.0 1328.4 L555.3 1326.2 L555.6 1324.0 L556.0 1321.8 L556.3 1319.7 L556.6 1317.5 L557.0 1315.3 L557.3 1313.2 L557.6 1311.1 L558.0 1308.9 L558.3 1306.8 L558.6 1304.7 L559.0 1302.6 L559.3 1300.4 L559.6 1298.3 L560.0 1296.2 L560.3 1294.2 L560.6 1292.1 L561.0 1290.0 L561.3 1287.9 L561.6 1285.9 L562.0 1283.8 L562.3 1281.8 L562.6 1279.7 L563.0 1277.7 L563.3 1275.6 L563.6 1273.6 L564.0 1271.6 L564.3 1269.6 L564.6 1267.6 L565.0 1265.6 L565.3 1263.6 L565.6 1261.6 L566.0 1259.6 L566.3 1257.6 L566.6 1255.7 L567.0 1253.7 L567.3 1251.7 L567.6 1249.8 L568.0 1247.9 L568.3 1245.9 L568.6 1244.0 L569.0 1242.1 L569.3 1240.1 L569.6 1238.2 L570.0 1236.3 L570.3 1234.4 L570.6 1232.5 L571.0 1230.6 L571.3 1228.7 L571.6 1226.9 L572.0 1225.0 L572.3 1223.1 L572.6 1221.3 L573.0 1219.4 L573.3 1217.5 L573.6 1215.7 L574.0 1213.9 L574.3 1212.0 L574.6 1210.2 L575.0 1208.4 L575.3 1206.6 L575.6 1204.8 L576.0 1203.0 L576.3 1201.2 L576.6 1199.4 L577.0 1197.6 L577.3 1195.8 L577.6 1194.0 L578.0 1192.2 L578.3 1190.5 L578.6 1188.7 L579.0 1187.0 L579.3 1185.2 L579.6 1183.5 L580.0 1181.7 L580.3 1180.0 L580.7 1178.3 L581.0 1176.6 L581.3 1174.8 L581.7 1173.1 L582.0 1171.4 L582.3 1169.7 L582.7 1168.0 L583.0 1166.3 L583.3 1164.7 L583.7 1163.0 L584.0 1161.3 L584.3 1159.6 L584.7 1158.0 L585.0 1156.3 L585.3 1154.7 L585.7 1153.0 L586.0 1151.4 L586.3 1149.7 L586.7 1148.1 L587.0 1146.5 L587.3 1144.9 L587.7 1143.2 L588.0 1141.6 L588.3 1140.0 L588.7 1138.4 L589.0 1136.8 L589.3 1135.2 L589.7 1133.7 L590.0 1132.1 L590.3 1130.5 L590.7 1128.9 L591.0 1127.4 L591.3 1125.8 L591.7 1124.2 L592.0 1122.7 L592.3 1121.1 L592.7 1119.6 L593.0 1118.1 L593.3 1116.5 L593.7 1115.0 L594.0 1113.5 L594.3 1112.0 L594.7 1110.5 L595.0 1108.9 L595.3 1107.4 L595.7 1105.9 L596.0 1104.5 L596.3 1103.0 L596.7 1101.5 L597.0 1100.0 L597.3 1098.5 L597.7 1097.1 L598.0 1095.6 L598.3 1094.1 L598.7 1092.7 L599.0 1091.2 L599.3 1089.8 L599.7 1088.3 L600.0 1086.9 L600.3 1085.5 L600.7 1084.0 L601.0 1082.6 L601.3 1081.2 L601.7 1079.8 L602.0 1078.4 L602.3 1077.0 L602.7 1075.6 L603.0 1074.2 L603.3 1072.8 L603.7 1071.4 L604.0 1070.0 L604.3 1068.6 L604.7 1067.3 L605.0 1065.9 L605.3 1064.5 L605.7 1063.2 L606.0 1061.8 L606.4 1060.5 L606.7 1059.1 L607.0 1057.8 L607.4 1056.4 L607.7 1055.1 L608.0 1053.8 L608.4 1052.4 L608.7 1051.1 L609.0 1049.8 L609.4 1048.5 L609.7 1047.2 L610.0 1045.9 L610.4 1044.6 L610.7 1043.3 L611.0 1042.0 L611.4 1040.7 L611.7 1039.4 L612.0 1038.1 L612.4 1036.8 L612.7 1035.6 L613.0 1034.3 L613.4 1033.0 L613.7 1031.8 L614.0 1030.5 L614.4 1029.3 L614.7 1028.0 L615.0 1026.8 L615.4 1025.5 L615.7 1024.3 L616.0 1023.1 L616.4 1021.8 L616.7 1020.6 L617.0 1019.4 L617.4 1018.2 L617.7 1017.0 L618.0 1015.8 L618.4 1014.6 L618.7 1013.4 L619.0 1012.2 L619.4 1011.0 L619.7 1009.8 L620.0 1008.6 L620.4 1007.4 L620.7 1006.2 L621.0 1005.1 L621.4 1003.9 L621.7 1002.7 L622.0 1001.6 L622.4 1000.4 L622.7 999.3 L623.0 998.1 L623.4 997.0 L623.7 995.8 L624.0 994.7 L624.4 993.5 L624.7 992.4 L625.0 991.3 L625.4 990.2 L625.7 989.0 L626.0 987.9 L626.4 986.8 L626.7 985.7 L627.0 984.6 L627.4 983.5 L627.7 982.4 L628.0 981.3 L628.4 980.2 L628.7 979.1 L629.0 978.0 L629.4 976.9 L629.7 975.9 L630.0 974.8 L630.4 973.7 L630.7 972.6 L631.0 971.6 L631.4 970.5 L631.7 969.5 L632.1 968.4 L632.4 967.4 L632.7 966.3 L633.1 965.3 L633.4 964.2 L633.7 963.2" fill="none" stroke="#ff0000" stroke-width="10.2" stroke-dasharray="10 11.6"/>
<path d="M898.0 705.6 L900.3 705.6 L902.5 705.7 L904.8 705.7 L907.0 705.8 L909.3 705.9 L911.6 706.0 L913.8 706.1 L916.1 706.2 L918.4 706.4 L920.6 706.5 L922.9 706.7 L925.1 706.9 L927.4 707.0 L929.7 707.2 L931.9 707.4 L934.2 707.6 L936.4 707.9 L938.7 708.1 L941.0 708.3 L943.2 708.6 L945.5 708.8 L947.7 709.1 L950.0 709.4 L952.3 709.6 L954.5 709.9 L956.8 710.2 L959.1 710.5 L961.3 710.8 L963.6 711.1 L965.8 711.5 L968.1 711.8 L970.4 712.1 L972.6 712.5 L974.9 712.8 L977.1 713.2 L979.4 713.5 L981.7 713.9 L983.9 714.2 L986.2 714.6 L988.5 715.0 L990.7 715.4 L993.0 715.8 L995.2 716.1 L997.5 716.5 L999.8 716.9 L1002.0 717.3 L1004.3 717.7 L1006.5 718.2 L1008.8 718.6 L1011.1 719.0 L1013.3 719.4 L1015.6 719.8 L1017.8 720.3 L1020.1 720.7 L1022.4 721.1 L1024.6 721.6 L1026.9 722.0 L1029.2 722.5 L1031.4 722.9 L1033.7 723.3 L1035.9 723.8 L1038.2 724.2 L1040.5 724.7 L1042.7 725.2 L1045.0 725.6 L1047.2 726.1 L1049.5 726.5 L1051.8 727.0 L1054.0 727.5 L1056.3 727.9 L1058.6 728.4 L1060.8 728.9 L1063.1 729.3 L1065.3 729.8 L1067.6 730.3 L1069.9 730.8 L1072.1 731.2 L1074.4 731.7 L1076.6 732.2 L1078.9 732.7 L1081.2 733.2 L1083.4 733.6 L1085.7 734.1 L1087.9 734.6 L1090.2 735.1 L1092.5 735.6 L1094.7 736.0 L1097.0 736.5 L1099.3 737.0 L1101.5 737.5 L1103.8 738.0 L1106.0 738.5 L1108.3 738.9 L1110.6 739.4 L1112.8 739.9 L1115.1 740.4 L1117.3 740.9 L1119.6 741.4 L1121.9 741.8 L1124.1 742.3 L1126.4 742.8 L1128.7 743.3 L1130.9 743.8 L1133.2 744.3 L1135.4 744.7 L1137.7 745.2 L1140.0 745.7 L1142.2 746.2 L1144.5 746.7 L1146.7 747.1 L1149.0 747.6 L1151.3 748.1 L1153.5 748.6 L1155.8 749.1 L1158.0 749.5 L1160.3 750.0 L1162.6 750.5 L1164.8 750.9 L1167.1 751.4 L1169.4 751.9 L1171.6 752.4 L1173.9 752.8 L1176.1 753.3 L1178.4 753.8 L1180.7 754.2 L1182.9 754.7 L1185.2 755.2 L1187.4 755.6 L1189.7 756.1 L1192.0 756.6 L1194.2 757.0 L1196.5 757.5 L1198.8 757.9 L1201.0 758.4 L1203.3 758.9 L1205.5 759.3 L1207.8 759.8 L1210.1 760.2 L1212.3 760.7 L1214.6 761.1 L1216.8 761.6 L1219.1 762.0 L1221.4 762.5 L1223.6 762.9 L1225.9 763.3 L1228.1 763.8 L1230.4 764.2 L1232.7 764.7 L1234.9 765.1 L1237.2 765.5 L1239.5 766.0 L1241.7 766.4 L1244.0 766.8 L1246.2 767.3 L1248.5 767.7 L1250.8 768.1 L1253.0 768.6 L1255.3 769.0 L1257.5 769.4 L1259.8 769.8 L1262.1 770.3 L1264.3 770.7 L1266.6 771.1 L1268.9 771.5 L1271.1 771.9 L1273.4 772.3 L1275.6 772.7 L1277.9 773.2 L1280.2 773.6 L1282.4 774.0 L1284.7 774.4 L1286.9 774.8 L1289.2 775.2 L1291.5 775.6 L1293.7 776.0 L1296.0 776.4 L1298.2 776.8 L1300.5 777.2 L1302.8 777.6 L1305.0 778.0 L1307.3 778.4 L1309.6 778.8 L1311.8 779.1 L1314.1 779.5 L1316.3 779.9 L1318.6 780.3 L1320.9 780.7 L1323.1 781.1 L1325.4 781.4 L1327.6 781.8 L1329.9 782.2 L1332.2 782.6 L1334.4 782.9 L1336.7 783.3 L1339.0 783.7 L1341.2 784.0 L1343.5 784.4 L1345.7 784.8 L1348.0 785.1 L1350.3 785.5 L1352.5 785.9 L1354.8 786.2 L1357.0 786.6 L1359.3 786.9 L1361.6 787.3 L1363.8 787.6 L1366.1 788.0 L1368.3 788.3 L1370.6 788.7 L1372.9 789.0 L1375.1 789.4 L1377.4 789.7 L1379.7 790.1 L1381.9 790.4 L1384.2 790.7 L1386.4 791.1 L1388.7 791.4 L1391.0 791.7 L1393.2 792.1 L1395.5 792.4 L1397.7 792.7 L1400.0 793.1 L1402.3 793.4 L1404.5 793.7 L1406.8 794.0 L1409.1 794.4 L1411.3 794.7 L1413.6 795.0 L1415.8 795.3 L1418.1 795.6 L1420.4 795.9 L1422.6 796.3 L1424.9 796.6 L1427.1 796.9 L1429.4 797.2 L1431.7 797.5 L1433.9 797.8 L1436.2 798.1 L1438.4 798.4 L1440.7 798.7 L1443.0 799.0 L1445.2 799.3 L1447.5 799.6 L1449.8 799.9 L1452.0 800.2 L1454.3 800.5 L1456.5 800.8 L1458.8 801.1 L1461.1 801.4 L1463.3 801.7 L1465.6 801.9 L1467.8 802.2 L1470.1 802.5 L1472.4 802.8 L1474.6 803.1 L1476.9 803.4 L1479.2 803.6 L1481.4 803.9 L1483.7 804.2 L1485.9 804.5 L1488.2 804.7 L1490.5 805.0 L1492.7 805.3 L1495.0 805.5 L1497.2 805.8 L1499.5 806.1 L1501.8 806.3 L1504.0 806.6 L1506.3 806.9 L1508.5 807.1 L1510.8 807.4 L1513.1 807.6 L1515.3 807.9 L1517.6 808.2 L1519.9 808.4 L1522.1 808.7 L1524.4 808.9 L1526.6 809.2 L1528.9 809.4 L1531.2 809.7 L1533.4 809.9 L1535.7 810.2 L1537.9 810.4 L1540.2 810.6 L1542.5 810.9 L1544.7 811.1 L1547.0 811.4 L1549.3 811.6 L1551.5 811.8 L1553.8 812.1 L1556.0 812.3 L1558.3 812.6 L1560.6 812.8 L1562.8 813.0 L1565.1 813.3 L1567.3 813.5 L1569.6 813.7 L1571.9 813.9 L1574.1 814.2 L1576.4 814.4 L1578.6 814.6 L1580.9 814.8 L1583.2 815.1 L1585.4 815.3 L1587.7 815.5 L1590.0 815.7 L1592.2 815.9 L1594.5 816.1 L1596.7 816.4 L1599.0 816.6 L1601.3 816.8 L1603.5 817.0 L1605.8 817.2 L1608.0 817.4 L1610.3 817.6 L1612.6 817.8 L1614.8 818.0 L1617.1 818.2 L1619.4 818.5 L1621.6 818.7 L1623.9 818.9 L1626.1 819.1 L1628.4 819.3 L1630.7 819.5 L1632.9 819.7 L1635.2 819.9 L1637.4 820.0 L1639.7 820.2 L1642.0 820.4 L1644.2 820.6 L1646.5 820.8 L1648.7 821.0 L1651.0 821.2 L1653.3 821.4 L1655.5 821.6 L1657.8 821.8 L1660.1 822.0 L1662.3 822.1 L1664.6 822.3 L1666.8 822.5 L1669.1 822.7 L1671.4 822.9 L1673.6 823.1 L1675.9 823.2 L1678.1 823.4 L1680.4 823.6 L1682.7 823.8 L1684.9 823.9 L1687.2 824.1 L1689.5 824.3 L1691.7 824.5 L1694.0 824.6 L1696.2 824.8 L1698.5 825.0 L1700.8 825.2 L1703.0 825.3 L1705.3 825.5 L1707.5 825.7 L1709.8 825.8 L1712.1 826.0 L1714.3 826.2 L1716.6 826.3 L1718.8 826.5 L1721.1 826.6 L1723.4 826.8 L1725.6 827.0 L1727.9 827.1 L1730.2 827.3 L1732.4 827.4 L1734.7 827.6 L1736.9 827.8 L1739.2 827.9 L1741.5 828.1 L1743.7 828.2 L1746.0 828.4 L1748.2 828.5 L1750.5 828.7 L1752.8 828.8 L1755.0 829.0 L1757.3 829.1 L1759.6 829.3 L1761.8 829.4 L1764.1 829.6 L1766.3 829.7 L1768.6 829.9 L1770.9 830.0 L1773.1 830.2 L1775.4 830.3 L1777.6 830.4 L1779.9 830.6 L1782.2 830.7 L1784.4 830.9 L1786.7 831.0 L1788.9 831.1 L1791.2 831.3 L1793.5 831.4 L1795.7 831.6 L1798.0 831.7 L1800.3 831.8 L1802.5 832.0 L1804.8 832.1 L1807.0 832.2 L1809.3 832.4 L1811.6 832.5 L1813.8 832.6 L1816.1 832.8 L1818.3 832.9 L1820.6 833.0 L1822.9 833.1 L1825.1 833.3 L1827.4 833.4 L1829.7 833.5 L1831.9 833.7 L1834.2 833.8 L1836.4 833.9 L1838.7 834.0 L1841.0 834.2 L1843.2 834.3 L1845.5 834.4 L1847.7 834.5 L1850.0 834.6 L1852.3 834.8 L1854.5 834.9 L1856.8 835.0 L1859.0 835.1 L1861.3 835.2 L1863.6 835.4 L1865.8 835.5 L1868.1 835.6 L1870.4 835.7 L1872.6 835.8 L1874.9 835.9 L1877.1 836.1 L1879.4 836.2 L1881.7 836.3 L1883.9 836.4 L1886.2 836.5 L1888.4 836.6 L1890.7 836.7 L1893.0 836.8 L1895.2 836.9 L1897.5 837.1 L1899.8 837.2 L1902.0 837.3 L1904.3 837.4 L1906.5 837.5 L1908.8 837.6 L1911.1 837.7 L1913.3 837.8 L1915.6 837.9 L1917.8 838.0 L1920.1 838.1 L1922.4 838.2 L1924.6 838.3 L1926.9 838.4 L1929.1 838.5 L1931.4 838.6 L1933.7 838.7 L1935.9 838.8 L1938.2 838.9 L1940.5 839.0 L1942.7 839.1 L1945.0 839.2 L1947.2 839.3 L1949.5 839.4 L1951.8 839.5 L1954.0 839.6 L1956.3 839.7 L1958.5 839.8 L1960.8 839.9 L1963.1 840.0 L1965.3 840.1 L1967.6 840.2 L1969.9 840.3 L1972.1 840.4 L1974.4 840.4 L1976.6 840.5 L1978.9 840.6 L1981.2 840.7 L1983.4 840.8 L1985.7 840.9 L1987.9 841.0 L1990.2 841.1 L1992.5 841.2 L1994.7 841.3 L1997.0 841.3 L1999.2 841.4 L2001.5 841.5 L2003.8 841.6 L2006.0 841.7 L2008.3 841.8 L2010.6 841.9 L2012.8 841.9 L2015.1 842.0 L2017.3 842.1 L2019.6 842.2 L2021.9 842.3 L2024.1 842.4 L2026.4 842.4 L2028.6 842.5 L2030.9 842.6 L2033.2 842.7 L2035.4 842.8 L2037.7 842.8 L2040.0 842.9 L2042.2 843.0 L2044.5 843.1 L2046.7 843.2 L2049.0 843.2 L2051.3 843.3 L2053.5 843.4 L2055.8 843.5 L2058.0 843.5 L2060.3 843.6 L2062.6 843.7 L2064.8 843.8 L2067.1 843.8 L2069.3 843.9 L2071.6 844.0 L2073.9 844.1 L2076.1 844.1 L2078.4 844.2 L2080.7 844.3 L2082.9 844.3 L2085.2 844.4 L2087.4 844.5 L2089.7 844.6 L2092.0 844.6 L2094.2 844.7 L2096.5 844.8 L2098.7 844.8 L2101.0 844.9 L2103.3 845.0 L2105.5 845.1 L2107.8 845.1 L2110.1 845.2 L2112.3 845.3 L2114.6 845.3 L2116.8 845.4 L2119.1 845.5 L2121.4 845.5 L2123.6 845.6 L2125.9 845.7 L2128.1 845.7 L2130.4 845.8 L2132.7 845.8 L2134.9 845.9 L2137.2 846.0 L2139.4 846.0 L2141.7 846.1 L2144.0 846.2 L2146.2 846.2 L2148.5 846.3 L2150.8 846.4 L2153.0 846.4 L2155.3 846.5 L2157.5 846.5 L2159.8 846.6 L2162.1 846.7 L2164.3 846.7 L2166.6 846.8 L2168.8 846.8 L2171.1 846.9 L2173.4 847.0 L2175.6 847.0 L2177.9 847.1 L2180.2 847.1 L2182.4 847.2 L2184.7 847.3 L2186.9 847.3 L2189.2 847.4 L2191.5 847.4 L2193.7 847.5 L2196.0 847.5 L2198.2 847.6 L2200.5 847.6 L2202.8 847.7 L2205.0 847.8 L2207.3 847.8 L2209.5 847.9 L2211.8 847.9 L2214.1 848.0 L2216.3 848.0 L2218.6 848.1 L2220.9 848.1 L2223.1 848.2 L2225.4 848.2 L2227.6 848.3 L2229.9 848.4 L2232.2 848.4 L2234.4 848.5 L2236.7 848.5 L2238.9 848.6 L2241.2 848.6 L2243.5 848.7 L2245.7 848.7 L2248.0 848.8 L2250.3 848.8 L2252.5 848.9 L2254.8 848.9" fill="none" stroke="#ff0000" stroke-width="10.2" stroke-dasharray="10 11.2" stroke-dashoffset="10"/>
<path d="M604.5 1483.5 L604.6 1482.3 L604.7 1481.1 L604.8 1479.9 L604.9 1478.7 L604.9 1477.5 L605.0 1476.3 L605.1 1475.1 L605.2 1473.9 L605.3 1472.7 L605.4 1471.5 L605.5 1470.3 L605.6 1469.1 L605.7 1467.9 L605.8 1466.7 L605.9 1465.5 L606.0 1464.4 L606.1 1463.2 L606.2 1462.0 L606.3 1460.8 L606.4 1459.6 L606.5 1458.4 L606.6 1457.3 L606.7 1456.1 L606.8 1454.9 L606.9 1453.7 L607.0 1452.5 L607.1 1451.4 L607.2 1450.2 L607.3 1449.0 L607.4 1447.8 L607.5 1446.7 L607.6 1445.5 L607.7 1444.3 L607.8 1443.2 L607.9 1442.0 L608.0 1440.8 L608.1 1439.7 L608.2 1438.5 L608.3 1437.3 L608.4 1436.2 L608.5 1435.0 L608.6 1433.9 L608.7 1432.7 L608.8 1431.5 L608.9 1430.4 L608.9 1429.2 L609.0 1428.1 L609.1 1426.9 L609.2 1425.8 L609.3 1424.6 L609.4 1423.5 L609.5 1422.3 L609.6 1421.2 L609.7 1420.0 L609.8 1418.9 L609.9 1417.7 L610.0 1416.6 L610.1 1415.5 L610.2 1414.3 L610.3 1413.2 L610.4 1412.0 L610.5 1410.9 L610.6 1409.8 L610.7 1408.6 L610.8 1407.5 L610.9 1406.4 L611.0 1405.2 L611.1 1404.1 L611.2 1403.0 L611.3 1401.8 L611.4 1400.7 L611.5 1399.6 L611.6 1398.5 L611.7 1397.3 L611.8 1396.2 L611.9 1395.1 L612.0 1394.0 L612.1 1392.8 L612.2 1391.7 L612.3 1390.6 L612.4 1389.5 L612.5 1388.4 L612.6 1387.3 L612.7 1386.1 L612.8 1385.0 L612.8 1383.9 L612.9 1382.8 L613.0 1381.7 L613.1 1380.6 L613.2 1379.5 L613.3 1378.4 L613.4 1377.3 L613.5 1376.2 L613.6 1375.1 L613.7 1374.0 L613.8 1372.8 L613.9 1371.7 L614.0 1370.6 L614.1 1369.6 L614.2 1368.5 L614.3 1367.4 L614.4 1366.3 L614.5 1365.2 L614.6 1364.1 L614.7 1363.0 L614.8 1361.9 L614.9 1360.8 L615.0 1359.7 L615.1 1358.6 L615.2 1357.5 L615.3 1356.4 L615.4 1355.4 L615.5 1354.3 L615.6 1353.2 L615.7 1352.1 L615.8 1351.0 L615.9 1349.9 L616.0 1348.9 L616.1 1347.8 L616.2 1346.7 L616.3 1345.6 L616.4 1344.6 L616.5 1343.5 L616.6 1342.4 L616.7 1341.3 L616.8 1340.3 L616.8 1339.2 L616.9 1338.1 L617.0 1337.1 L617.1 1336.0 L617.2 1334.9 L617.3 1333.9 L617.4 1332.8 L617.5 1331.7 L617.6 1330.7 L617.7 1329.6 L617.8 1328.6 L617.9 1327.5 L618.0 1326.4 L618.1 1325.4 L618.2 1324.3 L618.3 1323.3 L618.4 1322.2 L618.5 1321.2 L618.6 1320.1 L618.7 1319.1 L618.8 1318.0 L618.9 1317.0 L619.0 1315.9 L619.1 1314.9 L619.2 1313.8 L619.3 1312.8 L619.4 1311.7 L619.5 1310.7 L619.6 1309.6 L619.7 1308.6 L619.8 1307.6 L619.9 1306.5 L620.0 1305.5 L620.1 1304.5 L620.2 1303.4 L620.3 1302.4 L620.4 1301.3 L620.5 1300.3 L620.6 1299.3 L620.7 1298.3 L620.7 1297.2 L620.8 1296.2 L620.9 1295.2 L621.0 1294.1 L621.1 1293.1 L621.2 1292.1 L621.3 1291.1 L621.4 1290.0 L621.5 1289.0 L621.6 1288.0 L621.7 1287.0 L621.8 1286.0 L621.9 1284.9 L622.0 1283.9 L622.1 1282.9 L622.2 1281.9 L622.3 1280.9 L622.4 1279.9 L622.5 1278.8 L622.6 1277.8 L622.7 1276.8 L622.8 1275.8 L622.9 1274.8 L623.0 1273.8 L623.1 1272.8 L623.2 1271.8 L623.3 1270.8 L623.4 1269.8 L623.5 1268.8 L623.6 1267.8 L623.7 1266.8 L623.8 1265.8 L623.9 1264.8 L624.0 1263.8 L624.1 1262.8 L624.2 1261.8 L624.3 1260.8 L624.4 1259.8 L624.5 1258.8 L624.6 1257.8 L624.6 1256.8 L624.7 1255.8 L624.8 1254.8 L624.9 1253.8 L625.0 1252.8 L625.1 1251.9 L625.2 1250.9 L625.3 1249.9 L625.4 1248.9 L625.5 1247.9 L625.6 1246.9 L625.7 1246.0 L625.8 1245.0 L625.9 1244.0 L626.0 1243.0 L626.1 1242.0 L626.2 1241.1 L626.3 1240.1 L626.4 1239.1 L626.5 1238.1 L626.6 1237.2 L626.7 1236.2 L626.8 1235.2 L626.9 1234.3 L627.0 1233.3 L627.1 1232.3 L627.2 1231.3 L627.3 1230.4 L627.4 1229.4 L627.5 1228.4 L627.6 1227.5 L627.7 1226.5 L627.8 1225.6 L627.9 1224.6 L628.0 1223.6 L628.1 1222.7 L628.2 1221.7 L628.3 1220.8 L628.4 1219.8 L628.5 1218.9 L628.6 1217.9 L628.6 1216.9 L628.7 1216.0 L628.8 1215.0 L628.9 1214.1 L629.0 1213.1 L629.1 1212.2 L629.2 1211.2 L629.3 1210.3 L629.4 1209.3 L629.5 1208.4 L629.6 1207.5 L629.7 1206.5 L629.8 1205.6 L629.9 1204.6 L630.0 1203.7 L630.1 1202.7 L630.2 1201.8 L630.3 1200.9 L630.4 1199.9 L630.5 1199.0 L630.6 1198.1 L630.7 1197.1 L630.8 1196.2 L630.9 1195.3 L631.0 1194.3 L631.1 1193.4 L631.2 1192.5 L631.3 1191.5 L631.4 1190.6 L631.5 1189.7 L631.6 1188.8 L631.7 1187.8 L631.8 1186.9 L631.9 1186.0 L632.0 1185.1 L632.1 1184.1 L632.2 1183.2 L632.3 1182.3 L632.4 1181.4 L632.5 1180.5 L632.5 1179.5 L632.6 1178.6 L632.7 1177.7 L632.8 1176.8 L632.9 1175.9 L633.0 1175.0 L633.1 1174.0 L633.2 1173.1 L633.3 1172.2 L633.4 1171.3 L633.5 1170.4 L633.6 1169.5 L633.7 1168.6" fill="none" stroke="#ff0000" stroke-width="10.2" stroke-dasharray="10 11.6"/>
<path d="M898.0 395.7 L900.3 395.8 L902.5 396.0 L904.8 396.2 L907.0 396.4 L909.3 396.7 L911.6 397.0 L913.8 397.3 L916.1 397.7 L918.4 398.1 L920.6 398.6 L922.9 399.1 L925.1 399.6 L927.4 400.1 L929.7 400.7 L931.9 401.3 L934.2 401.9 L936.4 402.6 L938.7 403.3 L941.0 404.0 L943.2 404.7 L945.5 405.5 L947.7 406.3 L950.0 407.1 L952.3 407.9 L954.5 408.8 L956.8 409.7 L959.1 410.6 L961.3 411.5 L963.6 412.4 L965.8 413.4 L968.1 414.4 L970.4 415.4 L972.6 416.4 L974.9 417.4 L977.1 418.5 L979.4 419.5 L981.7 420.6 L983.9 421.7 L986.2 422.8 L988.5 424.0 L990.7 425.1 L993.0 426.3 L995.2 427.4 L997.5 428.6 L999.8 429.8 L1002.0 431.0 L1004.3 432.2 L1006.5 433.5 L1008.8 434.7 L1011.1 436.0 L1013.3 437.2 L1015.6 438.5 L1017.8 439.8 L1020.1 441.1 L1022.4 442.4 L1024.6 443.7 L1026.9 445.0 L1029.2 446.4 L1031.4 447.7 L1033.7 449.0 L1035.9 450.4 L1038.2 451.7 L1040.5 453.1 L1042.7 454.5 L1045.0 455.8 L1047.2 457.2 L1049.5 458.6 L1051.8 460.0 L1054.0 461.4 L1056.3 462.8 L1058.6 464.2 L1060.8 465.6 L1063.1 467.0 L1065.3 468.4 L1067.6 469.9 L1069.9 471.3 L1072.1 472.7 L1074.4 474.1 L1076.6 475.6 L1078.9 477.0 L1081.2 478.5 L1083.4 479.9 L1085.7 481.3 L1087.9 482.8 L1090.2 484.2 L1092.5 485.7 L1094.7 487.1 L1097.0 488.6 L1099.3 490.0 L1101.5 491.5 L1103.8 492.9 L1106.0 494.4 L1108.3 495.8 L1110.6 497.3 L1112.8 498.7 L1115.1 500.2 L1117.3 501.6 L1119.6 503.1 L1121.9 504.5 L1124.1 506.0 L1126.4 507.4 L1128.7 508.9 L1130.9 510.3 L1133.2 511.8 L1135.4 513.2 L1137.7 514.7 L1140.0 516.1 L1142.2 517.5 L1144.5 519.0 L1146.7 520.4 L1149.0 521.9 L1151.3 523.3 L1153.5 524.7 L1155.8 526.2 L1158.0 527.6 L1160.3 529.0 L1162.6 530.4 L1164.8 531.8 L1167.1 533.3 L1169.4 534.7 L1171.6 536.1 L1173.9 537.5 L1176.1 538.9 L1178.4 540.3 L1180.7 541.7 L1182.9 543.1 L1185.2 544.5 L1187.4 545.9 L1189.7 547.3 L1192.0 548.7 L1194.2 550.1 L1196.5 551.4 L1198.8 552.8 L1201.0 554.2 L1203.3 555.6 L1205.5 556.9 L1207.8 558.3 L1210.1 559.6 L1212.3 561.0 L1214.6 562.3 L1216.8 563.7 L1219.1 565.0 L1221.4 566.4 L1223.6 567.7 L1225.9 569.0 L1228.1 570.4 L1230.4 571.7 L1232.7 573.0 L1234.9 574.3 L1237.2 575.6 L1239.5 576.9 L1241.7 578.2 L1244.0 579.5 L1246.2 580.8 L1248.5 582.1 L1250.8 583.4 L1253.0 584.7 L1255.3 586.0 L1257.5 587.2 L1259.8 588.5 L1262.1 589.8 L1264.3 591.0 L1266.6 592.3 L1268.9 593.5 L1271.1 594.8 L1273.4 596.0 L1275.6 597.2 L1277.9 598.5 L1280.2 599.7 L1282.4 600.9 L1284.7 602.2 L1286.9 603.4 L1289.2 604.6 L1291.5 605.8 L1293.7 607.0 L1296.0 608.2 L1298.2 609.4 L1300.5 610.6 L1302.8 611.7 L1305.0 612.9 L1307.3 614.1 L1309.6 615.3 L1311.8 616.4 L1314.1 617.6 L1316.3 618.7 L1318.6 619.9 L1320.9 621.0 L1323.1 622.2 L1325.4 623.3 L1327.6 624.4 L1329.9 625.6 L1332.2 626.7 L1334.4 627.8 L1336.7 628.9 L1339.0 630.0 L1341.2 631.1 L1343.5 632.2 L1345.7 633.3 L1348.0 634.4 L1350.3 635.5 L1352.5 636.6 L1354.8 637.6 L1357.0 638.7 L1359.3 639.8 L1361.6 640.8 L1363.8 641.9 L1366.1 642.9 L1368.3 644.0 L1370.6 645.0 L1372.9 646.1 L1375.1 647.1 L1377.4 648.1 L1379.7 649.2 L1381.9 650.2 L1384.2 651.2 L1386.4 652.2 L1388.7 653.2 L1391.0 654.2 L1393.2 655.2 L1395.5 656.2 L1397.7 657.2 L1400.0 658.2 L1402.3 659.2 L1404.5 660.1 L1406.8 661.1 L1409.1 662.1 L1411.3 663.0 L1413.6 664.0 L1415.8 664.9 L1418.1 665.9 L1420.4 666.8 L1422.6 667.8 L1424.9 668.7 L1427.1 669.6 L1429.4 670.6 L1431.7 671.5 L1433.9 672.4 L1436.2 673.3 L1438.4 674.2 L1440.7 675.1 L1443.0 676.0 L1445.2 676.9 L1447.5 677.8 L1449.8 678.7 L1452.0 679.6 L1454.3 680.5 L1456.5 681.4 L1458.8 682.2 L1461.1 683.1 L1463.3 684.0 L1465.6 684.8 L1467.8 685.7 L1470.1 686.5 L1472.4 687.4 L1474.6 688.2 L1476.9 689.1 L1479.2 689.9 L1481.4 690.7 L1483.7 691.5 L1485.9 692.4 L1488.2 693.2 L1490.5 694.0 L1492.7 694.8 L1495.0 695.6 L1497.2 696.4 L1499.5 697.2 L1501.8 698.0 L1504.0 698.8 L1506.3 699.6 L1508.5 700.4 L1510.8 701.2 L1513.1 701.9 L1515.3 702.7 L1517.6 703.5 L1519.9 704.2 L1522.1 705.0 L1524.4 705.8 L1526.6 706.5 L1528.9 707.3 L1531.2 708.0 L1533.4 708.7 L1535.7 709.5 L1537.9 710.2 L1540.2 710.9 L1542.5 711.7 L1544.7 712.4 L1547.0 713.1 L1549.3 713.8 L1551.5 714.5 L1553.8 715.3 L1556.0 716.0 L1558.3 716.7 L1560.6 717.4 L1562.8 718.1 L1565.1 718.8 L1567.3 719.4 L1569.6 720.1 L1571.9 720.8 L1574.1 721.5 L1576.4 722.2 L1578.6 722.8 L1580.9 723.5 L1583.2 724.2 L1585.4 724.8 L1587.7 725.5 L1590.0 726.1 L1592.2 726.8 L1594.5 727.4 L1596.7 728.1 L1599.0 728.7 L1601.3 729.4 L1603.5 730.0 L1605.8 730.6 L1608.0 731.3 L1610.3 731.9 L1612.6 732.5 L1614.8 733.1 L1617.1 733.7 L1619.4 734.4 L1621.6 735.0 L1623.9 735.6 L1626.1 736.2 L1628.4 736.8 L1630.7 737.4 L1632.9 738.0 L1635.2 738.6 L1637.4 739.1 L1639.7 739.7 L1642.0 740.3 L1644.2 740.9 L1646.5 741.5 L1648.7 742.0 L1651.0 742.6 L1653.3 743.2 L1655.5 743.7 L1657.8 744.3 L1660.1 744.9 L1662.3 745.4 L1664.6 746.0 L1666.8 746.5 L1669.1 747.1 L1671.4 747.6 L1673.6 748.2 L1675.9 748.7 L1678.1 749.2 L1680.4 749.8 L1682.7 750.3 L1684.9 750.8 L1687.2 751.4 L1689.5 751.9 L1691.7 752.4 L1694.0 752.9 L1696.2 753.4 L1698.5 753.9 L1700.8 754.5 L1703.0 755.0 L1705.3 755.5 L1707.5 756.0 L1709.8 756.5 L1712.1 757.0 L1714.3 757.5 L1716.6 758.0 L1718.8 758.4 L1721.1 758.9 L1723.4 759.4 L1725.6 759.9 L1727.9 760.4 L1730.2 760.9 L1732.4 761.3 L1734.7 761.8 L1736.9 762.3 L1739.2 762.7 L1741.5 763.2 L1743.7 763.7 L1746.0 764.1 L1748.2 764.6 L1750.5 765.0 L1752.8 765.5 L1755.0 765.9 L1757.3 766.4 L1759.6 766.8 L1761.8 767.3 L1764.1 767.7 L1766.3 768.2 L1768.6 768.6 L1770.9 769.0 L1773.1 769.5 L1775.4 769.9 L1777.6 770.3 L1779.9 770.8 L1782.2 771.2 L1784.4 771.6 L1786.7 772.0 L1788.9 772.4 L1791.2 772.9 L1793.5 773.3 L1795.7 773.7 L1798.0 774.1 L1800.3 774.5 L1802.5 774.9 L1804.8 775.3 L1807.0 775.7 L1809.3 776.1 L1811.6 776.5 L1813.8 776.9 L1816.1 777.3 L1818.3 777.7 L1820.6 778.1 L1822.9 778.4 L1825.1 778.8 L1827.4 779.2 L1829.7 779.6 L1831.9 780.0 L1834.2 780.4 L1836.4 780.7 L1838.7 781.1 L1841.0 781.5 L1843.2 781.8 L1845.5 782.2 L1847.7 782.6 L1850.0 782.9 L1852.3 783.3 L1854.5 783.7 L1856.8 784.0 L1859.0 784.4 L1861.3 784.7 L1863.6 785.1 L1865.8 785.4 L1868.1 785.8 L1870.4 786.1 L1872.6 786.5 L1874.9 786.8 L1877.1 787.2 L1879.4 787.5 L1881.7 787.8 L1883.9 788.2 L1886.2 788.5 L1888.4 788.8 L1890.7 789.2 L1893.0 789.5 L1895.2 789.8 L1897.5 790.2 L1899.8 790.5 L1902.0 790.8 L1904.3 791.1 L1906.5 791.5 L1908.8 791.8 L1911.1 792.1 L1913.3 792.4 L1915.6 792.7 L1917.8 793.0 L1920.1 793.3 L1922.4 793.6 L1924.6 794.0 L1926.9 794.3 L1929.1 794.6 L1931.4 794.9 L1933.7 795.2 L1935.9 795.5 L1938.2 795.8 L1940.5 796.1 L1942.7 796.4 L1945.0 796.7 L1947.2 796.9 L1949.5 797.2 L1951.8 797.5 L1954.0 797.8 L1956.3 798.1 L1958.5 798.4 L1960.8 798.7 L1963.1 799.0 L1965.3 799.2 L1967.6 799.5 L1969.9 799.8 L1972.1 800.1 L1974.4 800.3 L1976.6 800.6 L1978.9 800.9 L1981.2 801.2 L1983.4 801.4 L1985.7 801.7 L1987.9 802.0 L1990.2 802.2 L1992.5 802.5 L1994.7 802.8 L1997.0 803.0 L1999.2 803.3 L2001.5 803.5 L2003.8 803.8 L2006.0 804.0 L2008.3 804.3 L2010.6 804.6 L2012.8 804.8 L2015.1 805.1 L2017.3 805.3 L2019.6 805.6 L2021.9 805.8 L2024.1 806.1 L2026.4 806.3 L2028.6 806.5 L2030.9 806.8 L2033.2 807.0 L2035.4 807.3 L2037.7 807.5 L2040.0 807.7 L2042.2 808.0 L2044.5 808.2 L2046.7 808.5 L2049.0 808.7 L2051.3 808.9 L2053.5 809.1 L2055.8 809.4 L2058.0 809.6 L2060.3 809.8 L2062.6 810.1 L2064.8 810.3 L2067.1 810.5 L2069.3 810.7 L2071.6 811.0 L2073.9 811.2 L2076.1 811.4 L2078.4 811.6 L2080.7 811.8 L2082.9 812.0 L2085.2 812.3 L2087.4 812.5 L2089.7 812.7 L2092.0 812.9 L2094.2 813.1 L2096.5 813.3 L2098.7 813.5 L2101.0 813.7 L2103.3 813.9 L2105.5 814.2 L2107.8 814.4 L2110.1 814.6 L2112.3 814.8 L2114.6 815.0 L2116.8 815.2 L2119.1 815.4 L2121.4 815.6 L2123.6 815.8 L2125.9 816.0 L2128.1 816.2 L2130.4 816.4 L2132.7 816.5 L2134.9 816.7 L2137.2 816.9 L2139.4 817.1 L2141.7 817.3 L2144.0 817.5 L2146.2 817.7 L2148.5 817.9 L2150.8 818.1 L2153.0 818.3 L2155.3 818.4 L2157.5 818.6 L2159.8 818.8 L2162.1 819.0 L2164.3 819.2 L2166.6 819.3 L2168.8 819.5 L2171.1 819.7 L2173.4 819.9 L2175.6 820.1 L2177.9 820.2 L2180.2 820.4 L2182.4 820.6 L2184.7 820.8 L2186.9 820.9 L2189.2 821.1 L2191.5 821.3 L2193.7 821.4 L2196.0 821.6 L2198.2 821.8 L2200.5 821.9 L2202.8 822.1 L2205.0 822.3 L2207.3 822.4 L2209.5 822.6 L2211.8 822.8 L2214.1 822.9 L2216.3 823.1 L2218.6 823.3 L2220.9 823.4 L2223.1 823.6 L2225.4 823.7 L2227.6 823.9 L2229.9 824.1 L2232.2 824.2 L2234.4 824.4 L2236.7 824.5 L2238.9 824.7 L2241.2 824.8 L2243.5 825.0 L2245.7 825.1 L2248.0 825.3 L2250.3 825.4 L2252.5 825.6 L2254.8 825.7" fill="none" stroke="#ff0000" stroke-width="10.2" stroke-dasharray="10 11.2" stroke-dashoffset="10"/>
<path d="M626.9 1483.5 L626.9 1483.1 L626.9 1482.7 L627.0 1482.4 L627.0 1482.0 L627.0 1481.6 L627.0 1481.2 L627.0 1480.9 L627.1 1480.5 L627.1 1480.1 L627.1 1479.7 L627.1 1479.4 L627.2 1479.0 L627.2 1478.6 L627.2 1478.2 L627.2 1477.8 L627.3 1477.5 L627.3 1477.1 L627.3 1476.7 L627.3 1476.3 L627.3 1476.0 L627.4 1475.6 L627.4 1475.2 L627.4 1474.8 L627.4 1474.5 L627.5 1474.1 L627.5 1473.7 L627.5 1473.3 L627.5 1473.0 L627.5 1472.6 L627.6 1472.2 L627.6 1471.8 L627.6 1471.5 L627.6 1471.1 L627.7 1470.7 L627.7 1470.3 L627.7 1470.0 L627.7 1469.6 L627.8 1469.2 L627.8 1468.8 L627.8 1468.5 L627.8 1468.1 L627.8 1467.7 L627.9 1467.3 L627.9 1467.0 L627.9 1466.6 L627.9 1466.2 L628.0 1465.9 L628.0 1465.5 L628.0 1465.1 L628.0 1464.7 L628.0 1464.4 L628.1 1464.0 L628.1 1463.6 L628.1 1463.2 L628.1 1462.9 L628.2 1462.5 L628.2 1462.1 L628.2 1461.7 L628.2 1461.4 L628.3 1461.0 L628.3 1460.6 L628.3 1460.3 L628.3 1459.9 L628.3 1459.5 L628.4 1459.1 L628.4 1458.8 L628.4 1458.4 L628.4 1458.0 L628.5 1457.7 L628.5 1457.3 L628.5 1456.9 L628.5 1456.5 L628.6 1456.2 L628.6 1455.8 L628.6 1455.4 L628.6 1455.1 L628.6 1454.7 L628.7 1454.3 L628.7 1453.9 L628.7 1453.6 L628.7 1453.2 L628.8 1452.8 L628.8 1452.5 L628.8 1452.1 L628.8 1451.7 L628.8 1451.4 L628.9 1451.0 L628.9 1450.6 L628.9 1450.2 L628.9 1449.9 L629.0 1449.5 L629.0 1449.1 L629.0 1448.8 L629.0 1448.4 L629.1 1448.0 L629.1 1447.7 L629.1 1447.3 L629.1 1446.9 L629.1 1446.5 L629.2 1446.2 L629.2 1445.8 L629.2 1445.4 L629.2 1445.1 L629.3 1444.7 L629.3 1444.3 L629.3 1444.0 L629.3 1443.6 L629.3 1443.2 L629.4 1442.9 L629.4 1442.5 L629.4 1442.1 L629.4 1441.8 L629.5 1441.4 L629.5 1441.0 L629.5 1440.6 L629.5 1440.3 L629.6 1439.9 L629.6 1439.5 L629.6 1439.2 L629.6 1438.8 L629.6 1438.4 L629.7 1438.1 L629.7 1437.7 L629.7 1437.3 L629.7 1437.0 L629.8 1436.6 L629.8 1436.2 L629.8 1435.9 L629.8 1435.5 L629.8 1435.1 L629.9 1434.8 L629.9 1434.4 L629.9 1434.0 L629.9 1433.7 L630.0 1433.3 L630.0 1432.9 L630.0 1432.6 L630.0 1432.2 L630.1 1431.8 L630.1 1431.5 L630.1 1431.1 L630.1 1430.7 L630.1 1430.4 L630.2 1430.0 L630.2 1429.6 L630.2 1429.3 L630.2 1428.9 L630.3 1428.6 L630.3 1428.2 L630.3 1427.8 L630.3 1427.5 L630.3 1427.1 L630.4 1426.7 L630.4 1426.4 L630.4 1426.0 L630.4 1425.6 L630.5 1425.3 L630.5 1424.9 L630.5 1424.5 L630.5 1424.2 L630.6 1423.8 L630.6 1423.4 L630.6 1423.1 L630.6 1422.7 L630.6 1422.4 L630.7 1422.0 L630.7 1421.6 L630.7 1421.3 L630.7 1420.9 L630.8 1420.5 L630.8 1420.2 L630.8 1419.8 L630.8 1419.4 L630.9 1419.1 L630.9 1418.7 L630.9 1418.4 L630.9 1418.0 L630.9 1417.6 L631.0 1417.3 L631.0 1416.9 L631.0 1416.5 L631.0 1416.2 L631.1 1415.8 L631.1 1415.5 L631.1 1415.1 L631.1 1414.7 L631.1 1414.4 L631.2 1414.0 L631.2 1413.6 L631.2 1413.3 L631.2 1412.9 L631.3 1412.6 L631.3 1412.2 L631.3 1411.8 L631.3 1411.5 L631.4 1411.1 L631.4 1410.8 L631.4 1410.4 L631.4 1410.0 L631.4 1409.7 L631.5 1409.3 L631.5 1409.0 L631.5 1408.6 L631.5 1408.2 L631.6 1407.9 L631.6 1407.5 L631.6 1407.2 L631.6 1406.8 L631.6 1406.4 L631.7 1406.1 L631.7 1405.7 L631.7 1405.3 L631.7 1405.0 L631.8 1404.6 L631.8 1404.3 L631.8 1403.9 L631.8 1403.6 L631.9 1403.2 L631.9 1402.8 L631.9 1402.5 L631.9 1402.1 L631.9 1401.8 L632.0 1401.4 L632.0 1401.0 L632.0 1400.7 L632.0 1400.3 L632.1 1400.0 L632.1 1399.6 L632.1 1399.2 L632.1 1398.9 L632.1 1398.5 L632.2 1398.2 L632.2 1397.8 L632.2 1397.4 L632.2 1397.1 L632.3 1396.7 L632.3 1396.4 L632.3 1396.0 L632.3 1395.7 L632.4 1395.3 L632.4 1394.9 L632.4 1394.6 L632.4 1394.2 L632.4 1393.9 L632.5 1393.5 L632.5 1393.2 L632.5 1392.8 L632.5 1392.4 L632.6 1392.1 L632.6 1391.7 L632.6 1391.4 L632.6 1391.0 L632.6 1390.7 L632.7 1390.3 L632.7 1389.9 L632.7 1389.6 L632.7 1389.2 L632.8 1388.9 L632.8 1388.5 L632.8 1388.2 L632.8 1387.8 L632.9 1387.5 L632.9 1387.1 L632.9 1386.7 L632.9 1386.4 L632.9 1386.0 L633.0 1385.7 L633.0 1385.3 L633.0 1385.0 L633.0 1384.6 L633.1 1384.3 L633.1 1383.9 L633.1 1383.5 L633.1 1383.2 L633.2 1382.8 L633.2 1382.5 L633.2 1382.1 L633.2 1381.8 L633.2 1381.4 L633.3 1381.1 L633.3 1380.7 L633.3 1380.3 L633.3 1380.0 L633.4 1379.6 L633.4 1379.3 L633.4 1378.9 L633.4 1378.6 L633.4 1378.2 L633.5 1377.9 L633.5 1377.5 L633.5 1377.2 L633.5 1376.8 L633.6 1376.5 L633.6 1376.1 L633.6 1375.7 L633.6 1375.4 L633.7 1375.0 L633.7 1374.7 L633.7 1374.3 L633.7 1374.0" fill="none" stroke="#ff0000" stroke-width="10.2" stroke-dasharray="10 11.6"/>
<path d="M898.0 85.8 L900.3 86.0 L902.5 86.3 L904.8 86.6 L907.0 87.0 L909.3 87.5 L911.6 88.0 L913.8 88.6 L916.1 89.2 L918.4 89.9 L920.6 90.7 L922.9 91.5 L925.1 92.3 L927.4 93.2 L929.7 94.2 L931.9 95.2 L934.2 96.2 L936.4 97.3 L938.7 98.5 L941.0 99.6 L943.2 100.9 L945.5 102.1 L947.7 103.5 L950.0 104.8 L952.3 106.2 L954.5 107.6 L956.8 109.1 L959.1 110.6 L961.3 112.1 L963.6 113.7 L965.8 115.3 L968.1 116.9 L970.4 118.6 L972.6 120.3 L974.9 122.0 L977.1 123.8 L979.4 125.5 L981.7 127.4 L983.9 129.2 L986.2 131.0 L988.5 132.9 L990.7 134.8 L993.0 136.8 L995.2 138.7 L997.5 140.7 L999.8 142.7 L1002.0 144.7 L1004.3 146.7 L1006.5 148.8 L1008.8 150.9 L1011.1 153.0 L1013.3 155.1 L1015.6 157.2 L1017.8 159.3 L1020.1 161.5 L1022.4 163.7 L1024.6 165.8 L1026.9 168.0 L1029.2 170.3 L1031.4 172.5 L1033.7 174.7 L1035.9 177.0 L1038.2 179.2 L1040.5 181.5 L1042.7 183.8 L1045.0 186.1 L1047.2 188.4 L1049.5 190.7 L1051.8 193.0 L1054.0 195.3 L1056.3 197.7 L1058.6 200.0 L1060.8 202.4 L1063.1 204.7 L1065.3 207.1 L1067.6 209.4 L1069.9 211.8 L1072.1 214.2 L1074.4 216.6 L1076.6 219.0 L1078.9 221.4 L1081.2 223.8 L1083.4 226.2 L1085.7 228.6 L1087.9 231.0 L1090.2 233.4 L1092.5 235.8 L1094.7 238.2 L1097.0 240.6 L1099.3 243.0 L1101.5 245.4 L1103.8 247.9 L1106.0 250.3 L1108.3 252.7 L1110.6 255.1 L1112.8 257.5 L1115.1 260.0 L1117.3 262.4 L1119.6 264.8 L1121.9 267.2 L1124.1 269.6 L1126.4 272.0 L1128.7 274.5 L1130.9 276.9 L1133.2 279.3 L1135.4 281.7 L1137.7 284.1 L1140.0 286.5 L1142.2 288.9 L1144.5 291.3 L1146.7 293.7 L1149.0 296.1 L1151.3 298.5 L1153.5 300.9 L1155.8 303.3 L1158.0 305.6 L1160.3 308.0 L1162.6 310.4 L1164.8 312.7 L1167.1 315.1 L1169.4 317.5 L1171.6 319.8 L1173.9 322.2 L1176.1 324.5 L1178.4 326.9 L1180.7 329.2 L1182.9 331.5 L1185.2 333.8 L1187.4 336.2 L1189.7 338.5 L1192.0 340.8 L1194.2 343.1 L1196.5 345.4 L1198.8 347.7 L1201.0 350.0 L1203.3 352.3 L1205.5 354.5 L1207.8 356.8 L1210.1 359.1 L1212.3 361.3 L1214.6 363.6 L1216.8 365.8 L1219.1 368.0 L1221.4 370.3 L1223.6 372.5 L1225.9 374.7 L1228.1 376.9 L1230.4 379.1 L1232.7 381.3 L1234.9 383.5 L1237.2 385.7 L1239.5 387.9 L1241.7 390.1 L1244.0 392.2 L1246.2 394.4 L1248.5 396.5 L1250.8 398.7 L1253.0 400.8 L1255.3 402.9 L1257.5 405.0 L1259.8 407.2 L1262.1 409.3 L1264.3 411.4 L1266.6 413.5 L1268.9 415.5 L1271.1 417.6 L1273.4 419.7 L1275.6 421.7 L1277.9 423.8 L1280.2 425.8 L1282.4 427.9 L1284.7 429.9 L1286.9 431.9 L1289.2 434.0 L1291.5 436.0 L1293.7 438.0 L1296.0 440.0 L1298.2 441.9 L1300.5 443.9 L1302.8 445.9 L1305.0 447.9 L1307.3 449.8 L1309.6 451.8 L1311.8 453.7 L1314.1 455.6 L1316.3 457.6 L1318.6 459.5 L1320.9 461.4 L1323.1 463.3 L1325.4 465.2 L1327.6 467.1 L1329.9 468.9 L1332.2 470.8 L1334.4 472.7 L1336.7 474.5 L1339.0 476.4 L1341.2 478.2 L1343.5 480.0 L1345.7 481.9 L1348.0 483.7 L1350.3 485.5 L1352.5 487.3 L1354.8 489.1 L1357.0 490.9 L1359.3 492.6 L1361.6 494.4 L1363.8 496.2 L1366.1 497.9 L1368.3 499.7 L1370.6 501.4 L1372.9 503.1 L1375.1 504.9 L1377.4 506.6 L1379.7 508.3 L1381.9 510.0 L1384.2 511.7 L1386.4 513.4 L1388.7 515.0 L1391.0 516.7 L1393.2 518.4 L1395.5 520.0 L1397.7 521.7 L1400.0 523.3 L1402.3 524.9 L1404.5 526.6 L1406.8 528.2 L1409.1 529.8 L1411.3 531.4 L1413.6 533.0 L1415.8 534.6 L1418.1 536.2 L1420.4 537.7 L1422.6 539.3 L1424.9 540.9 L1427.1 542.4 L1429.4 544.0 L1431.7 545.5 L1433.9 547.0 L1436.2 548.5 L1438.4 550.1 L1440.7 551.6 L1443.0 553.1 L1445.2 554.6 L1447.5 556.1 L1449.8 557.5 L1452.0 559.0 L1454.3 560.5 L1456.5 561.9 L1458.8 563.4 L1461.1 564.8 L1463.3 566.3 L1465.6 567.7 L1467.8 569.1 L1470.1 570.5 L1472.4 572.0 L1474.6 573.4 L1476.9 574.8 L1479.2 576.2 L1481.4 577.5 L1483.7 578.9 L1485.9 580.3 L1488.2 581.7 L1490.5 583.0 L1492.7 584.4 L1495.0 585.7 L1497.2 587.0 L1499.5 588.4 L1501.8 589.7 L1504.0 591.0 L1506.3 592.3 L1508.5 593.6 L1510.8 594.9 L1513.1 596.2 L1515.3 597.5 L1517.6 598.8 L1519.9 600.1 L1522.1 601.3 L1524.4 602.6 L1526.6 603.8 L1528.9 605.1 L1531.2 606.3 L1533.4 607.6 L1535.7 608.8 L1537.9 610.0 L1540.2 611.2 L1542.5 612.5 L1544.7 613.7 L1547.0 614.9 L1549.3 616.1 L1551.5 617.2 L1553.8 618.4 L1556.0 619.6 L1558.3 620.8 L1560.6 621.9 L1562.8 623.1 L1565.1 624.3 L1567.3 625.4 L1569.6 626.5 L1571.9 627.7 L1574.1 628.8 L1576.4 629.9 L1578.6 631.1 L1580.9 632.2 L1583.2 633.3 L1585.4 634.4 L1587.7 635.5 L1590.0 636.6 L1592.2 637.6 L1594.5 638.7 L1596.7 639.8 L1599.0 640.9 L1601.3 641.9 L1603.5 643.0 L1605.8 644.0 L1608.0 645.1 L1610.3 646.1 L1612.6 647.2 L1614.8 648.2 L1617.1 649.2 L1619.4 650.3 L1621.6 651.3 L1623.9 652.3 L1626.1 653.3 L1628.4 654.3 L1630.7 655.3 L1632.9 656.3 L1635.2 657.3 L1637.4 658.2 L1639.7 659.2 L1642.0 660.2 L1644.2 661.2 L1646.5 662.1 L1648.7 663.1 L1651.0 664.0 L1653.3 665.0 L1655.5 665.9 L1657.8 666.8 L1660.1 667.8 L1662.3 668.7 L1664.6 669.6 L1666.8 670.5 L1669.1 671.5 L1671.4 672.4 L1673.6 673.3 L1675.9 674.2 L1678.1 675.1 L1680.4 676.0 L1682.7 676.8 L1684.9 677.7 L1687.2 678.6 L1689.5 679.5 L1691.7 680.3 L1694.0 681.2 L1696.2 682.1 L1698.5 682.9 L1700.8 683.8 L1703.0 684.6 L1705.3 685.4 L1707.5 686.3 L1709.8 687.1 L1712.1 687.9 L1714.3 688.8 L1716.6 689.6 L1718.8 690.4 L1721.1 691.2 L1723.4 692.0 L1725.6 692.8 L1727.9 693.6 L1730.2 694.4 L1732.4 695.2 L1734.7 696.0 L1736.9 696.8 L1739.2 697.6 L1741.5 698.3 L1743.7 699.1 L1746.0 699.9 L1748.2 700.6 L1750.5 701.4 L1752.8 702.2 L1755.0 702.9 L1757.3 703.7 L1759.6 704.4 L1761.8 705.1 L1764.1 705.9 L1766.3 706.6 L1768.6 707.3 L1770.9 708.1 L1773.1 708.8 L1775.4 709.5 L1777.6 710.2 L1779.9 710.9 L1782.2 711.6 L1784.4 712.3 L1786.7 713.0 L1788.9 713.7 L1791.2 714.4 L1793.5 715.1 L1795.7 715.8 L1798.0 716.5 L1800.3 717.2 L1802.5 717.8 L1804.8 718.5 L1807.0 719.2 L1809.3 719.8 L1811.6 720.5 L1813.8 721.2 L1816.1 721.8 L1818.3 722.5 L1820.6 723.1 L1822.9 723.7 L1825.1 724.4 L1827.4 725.0 L1829.7 725.7 L1831.9 726.3 L1834.2 726.9 L1836.4 727.5 L1838.7 728.2 L1841.0 728.8 L1843.2 729.4 L1845.5 730.0 L1847.7 730.6 L1850.0 731.2 L1852.3 731.8 L1854.5 732.4 L1856.8 733.0 L1859.0 733.6 L1861.3 734.2 L1863.6 734.8 L1865.8 735.4 L1868.1 736.0 L1870.4 736.5 L1872.6 737.1 L1874.9 737.7 L1877.1 738.3 L1879.4 738.8 L1881.7 739.4 L1883.9 740.0 L1886.2 740.5 L1888.4 741.1 L1890.7 741.6 L1893.0 742.2 L1895.2 742.7 L1897.5 743.3 L1899.8 743.8 L1902.0 744.4 L1904.3 744.9 L1906.5 745.4 L1908.8 746.0 L1911.1 746.5 L1913.3 747.0 L1915.6 747.5 L1917.8 748.0 L1920.1 748.6 L1922.4 749.1 L1924.6 749.6 L1926.9 750.1 L1929.1 750.6 L1931.4 751.1 L1933.7 751.6 L1935.9 752.1 L1938.2 752.6 L1940.5 753.1 L1942.7 753.6 L1945.0 754.1 L1947.2 754.6 L1949.5 755.1 L1951.8 755.5 L1954.0 756.0 L1956.3 756.5 L1958.5 757.0 L1960.8 757.4 L1963.1 757.9 L1965.3 758.4 L1967.6 758.9 L1969.9 759.3 L1972.1 759.8 L1974.4 760.2 L1976.6 760.7 L1978.9 761.1 L1981.2 761.6 L1983.4 762.0 L1985.7 762.5 L1987.9 762.9 L1990.2 763.4 L1992.5 763.8 L1994.7 764.3 L1997.0 764.7 L1999.2 765.1 L2001.5 765.6 L2003.8 766.0 L2006.0 766.4 L2008.3 766.8 L2010.6 767.3 L2012.8 767.7 L2015.1 768.1 L2017.3 768.5 L2019.6 768.9 L2021.9 769.3 L2024.1 769.8 L2026.4 770.2 L2028.6 770.6 L2030.9 771.0 L2033.2 771.4 L2035.4 771.8 L2037.7 772.2 L2040.0 772.6 L2042.2 773.0 L2044.5 773.4 L2046.7 773.8 L2049.0 774.1 L2051.3 774.5 L2053.5 774.9 L2055.8 775.3 L2058.0 775.7 L2060.3 776.1 L2062.6 776.4 L2064.8 776.8 L2067.1 777.2 L2069.3 777.6 L2071.6 777.9 L2073.9 778.3 L2076.1 778.7 L2078.4 779.0 L2080.7 779.4 L2082.9 779.7 L2085.2 780.1 L2087.4 780.5 L2089.7 780.8 L2092.0 781.2 L2094.2 781.5 L2096.5 781.9 L2098.7 782.2 L2101.0 782.6 L2103.3 782.9 L2105.5 783.3 L2107.8 783.6 L2110.1 783.9 L2112.3 784.3 L2114.6 784.6 L2116.8 784.9 L2119.1 785.3 L2121.4 785.6 L2123.6 785.9 L2125.9 786.3 L2128.1 786.6 L2130.4 786.9 L2132.7 787.2 L2134.9 787.6 L2137.2 787.9 L2139.4 788.2 L2141.7 788.5 L2144.0 788.8 L2146.2 789.2 L2148.5 789.5 L2150.8 789.8 L2153.0 790.1 L2155.3 790.4 L2157.5 790.7 L2159.8 791.0 L2162.1 791.3 L2164.3 791.6 L2166.6 791.9 L2168.8 792.2 L2171.1 792.5 L2173.4 792.8 L2175.6 793.1 L2177.9 793.4 L2180.2 793.7 L2182.4 794.0 L2184.7 794.3 L2186.9 794.5 L2189.2 794.8 L2191.5 795.1 L2193.7 795.4 L2196.0 795.7 L2198.2 796.0 L2200.5 796.2 L2202.8 796.5 L2205.0 796.8 L2207.3 797.1 L2209.5 797.4 L2211.8 797.6 L2214.1 797.9 L2216.3 798.2 L2218.6 798.4 L2220.9 798.7 L2223.1 799.0 L2225.4 799.2 L2227.6 799.5 L2229.9 799.8 L2232.2 800.0 L2234.4 800.3 L2236.7 800.5 L2238.9 800.8 L2241.2 801.1 L2243.5 801.3 L2245.7 801.6 L2248.0 801.8 L2250.3 802.1 L2252.5 802.3 L2254.8 802.6" fill="none" stroke="#ff0000" stroke-width="10.2" stroke-dasharray="10 11.2" stroke-dashoffset="10"/>
<path d="M632.6 871.1 L634.0 870.7 L635.3 870.3 L636.6 869.9 L638.0 869.5 L639.3 869.1 L640.6 868.7 L641.9 868.3 L643.3 867.9 L644.6 867.6 L645.9 867.2 L647.2 866.8 L648.6 866.5 L649.9 866.1 L651.2 865.8 L652.5 865.4 L653.9 865.1 L655.2 864.8 L656.5 864.4 L657.9 864.1 L659.2 863.8 L660.5 863.5 L661.8 863.2 L663.2 862.9 L664.5 862.6 L665.8 862.3 L667.1 862.0 L668.5 861.7 L669.8 861.4 L671.1 861.1 L672.4 860.8 L673.8 860.5 L675.1 860.3 L676.4 860.0 L677.8 859.7 L679.1 859.5 L680.4 859.2 L681.7 859.0 L683.1 858.7 L684.4 858.5 L685.7 858.2 L687.0 858.0 L688.4 857.8 L689.7 857.5 L691.0 857.3 L692.3 857.1 L693.7 856.8 L695.0 856.6 L696.3 856.4 L697.7 856.2 L699.0 856.0 L700.3 855.8 L701.6 855.6 L703.0 855.4 L704.3 855.2 L705.6 855.0 L706.9 854.8 L708.3 854.6 L709.6 854.4 L710.9 854.2 L712.3 854.0 L713.6 853.8 L714.9 853.7 L716.2 853.5 L717.6 853.3 L718.9 853.2 L720.2 853.0 L721.5 852.8 L722.9 852.7 L724.2 852.5 L725.5 852.3 L726.8 852.2 L728.2 852.0 L729.5 851.9 L730.8 851.7 L732.2 851.6 L733.5 851.5 L734.8 851.3 L736.1 851.2 L737.5 851.0 L738.8 850.9 L740.1 850.8 L741.4 850.7 L742.8 850.5 L744.1 850.4 L745.4 850.3 L746.7 850.2 L748.1 850.0 L749.4 849.9 L750.7 849.8 L752.1 849.7 L753.4 849.6 L754.7 849.5 L756.0 849.4 L757.4 849.3 L758.7 849.1 L760.0 849.0 L761.3 848.9 L762.7 848.8 L764.0 848.8 L765.3 848.7 L766.6 848.6 L768.0 848.5 L769.3 848.4 L770.6 848.3 L772.0 848.2 L773.3 848.1 L774.6 848.0 L775.9 848.0 L777.3 847.9 L778.6 847.8 L779.9 847.7 L781.2 847.6 L782.6 847.6 L783.9 847.5 L785.2 847.4 L786.6 847.3 L787.9 847.3 L789.2 847.2 L790.5 847.1 L791.9 847.1 L793.2 847.0 L794.5 846.9 L795.8 846.9 L797.2 846.8 L798.5 846.8 L799.8 846.7 L801.1 846.7 L802.5 846.6 L803.8 846.5 L805.1 846.5 L806.5 846.4 L807.8 846.4 L809.1 846.3 L810.4 846.3 L811.8 846.2 L813.1 846.2 L814.4 846.2 L815.7 846.1 L817.1 846.1 L818.4 846.0 L819.7 846.0 L821.0 845.9 L822.4 845.9 L823.7 845.9 L825.0 845.8 L826.4 845.8 L827.7 845.8 L829.0 845.7 L830.3 845.7 L831.7 845.7 L833.0 845.6 L834.3 845.6 L835.6 845.6 L837.0 845.5 L838.3 845.5 L839.6 845.5 L840.9 845.5 L842.3 845.4 L843.6 845.4 L844.9 845.4 L846.3 845.4 L847.6 845.3 L848.9 845.3 L850.2 845.3 L851.6 845.3 L852.9 845.3 L854.2 845.2 L855.5 845.2 L856.9 845.2 L858.2 845.2 L859.5 845.2 L860.9 845.2 L862.2 845.2 L863.5 845.1 L864.8 845.1 L866.2 845.1 L867.5 845.1 L868.8 845.1 L870.1 845.1 L871.5 845.1 L872.8 845.1 L874.1 845.1 L875.4 845.0 L876.8 845.0 L878.1 845.0 L879.4 845.0 L880.8 845.0 L882.1 845.0 L883.4 845.0 L884.7 845.0 L886.1 845.0 L887.4 845.0 L888.7 845.0 L890.0 845.0 L891.4 845.0 L892.7 845.0 L894.0 845.0 L895.3 845.0 L896.7 845.0 L898.0 845.0" fill="none" stroke="#ff0000" stroke-width="10.5" stroke-linejoin="round"/>
<path d="M632.6 913.5 L634.0 911.5 L635.3 909.4 L636.6 907.4 L638.0 905.4 L639.3 903.5 L640.6 901.5 L641.9 899.6 L643.3 897.7 L644.6 895.9 L645.9 894.1 L647.2 892.2 L648.6 890.5 L649.9 888.7 L651.2 887.0 L652.5 885.2 L653.9 883.5 L655.2 881.9 L656.5 880.2 L657.9 878.6 L659.2 877.0 L660.5 875.4 L661.8 873.9 L663.2 872.3 L664.5 870.8 L665.8 869.3 L667.1 867.8 L668.5 866.4 L669.8 864.9 L671.1 863.5 L672.4 862.1 L673.8 860.7 L675.1 859.4 L676.4 858.0 L677.8 856.7 L679.1 855.4 L680.4 854.1 L681.7 852.8 L683.1 851.6 L684.4 850.4 L685.7 849.1 L687.0 847.9 L688.4 846.8 L689.7 845.6 L691.0 844.4 L692.3 843.3 L693.7 842.2 L695.0 841.1 L696.3 840.0 L697.7 838.9 L699.0 837.9 L700.3 836.8 L701.6 835.8 L703.0 834.8 L704.3 833.8 L705.6 832.8 L706.9 831.9 L708.3 830.9 L709.6 830.0 L710.9 829.0 L712.3 828.1 L713.6 827.2 L714.9 826.4 L716.2 825.5 L717.6 824.6 L718.9 823.8 L720.2 823.0 L721.5 822.1 L722.9 821.3 L724.2 820.5 L725.5 819.7 L726.8 819.0 L728.2 818.2 L729.5 817.5 L730.8 816.7 L732.2 816.0 L733.5 815.3 L734.8 814.6 L736.1 813.9 L737.5 813.2 L738.8 812.6 L740.1 811.9 L741.4 811.3 L742.8 810.6 L744.1 810.0 L745.4 809.4 L746.7 808.8 L748.1 808.2 L749.4 807.6 L750.7 807.0 L752.1 806.4 L753.4 805.9 L754.7 805.3 L756.0 804.8 L757.4 804.3 L758.7 803.7 L760.0 803.2 L761.3 802.7 L762.7 802.2 L764.0 801.8 L765.3 801.3 L766.6 800.8 L768.0 800.3 L769.3 799.9 L770.6 799.4 L772.0 799.0 L773.3 798.6 L774.6 798.2 L775.9 797.8 L777.3 797.3 L778.6 796.9 L779.9 796.6 L781.2 796.2 L782.6 795.8 L783.9 795.4 L785.2 795.1 L786.6 794.7 L787.9 794.4 L789.2 794.0 L790.5 793.7 L791.9 793.4 L793.2 793.0 L794.5 792.7 L795.8 792.4 L797.2 792.1 L798.5 791.8 L799.8 791.5 L801.1 791.3 L802.5 791.0 L803.8 790.7 L805.1 790.4 L806.5 790.2 L807.8 789.9 L809.1 789.7 L810.4 789.4 L811.8 789.2 L813.1 789.0 L814.4 788.8 L815.7 788.5 L817.1 788.3 L818.4 788.1 L819.7 787.9 L821.0 787.7 L822.4 787.5 L823.7 787.3 L825.0 787.1 L826.4 787.0 L827.7 786.8 L829.0 786.6 L830.3 786.5 L831.7 786.3 L833.0 786.1 L834.3 786.0 L835.6 785.8 L837.0 785.7 L838.3 785.6 L839.6 785.4 L840.9 785.3 L842.3 785.2 L843.6 785.0 L844.9 784.9 L846.3 784.8 L847.6 784.7 L848.9 784.6 L850.2 784.5 L851.6 784.4 L852.9 784.3 L854.2 784.2 L855.5 784.1 L856.9 784.0 L858.2 784.0 L859.5 783.9 L860.9 783.8 L862.2 783.8 L863.5 783.7 L864.8 783.6 L866.2 783.6 L867.5 783.5 L868.8 783.5 L870.1 783.4 L871.5 783.4 L872.8 783.3 L874.1 783.3 L875.4 783.2 L876.8 783.2 L878.1 783.2 L879.4 783.1 L880.8 783.1 L882.1 783.1 L883.4 783.1 L884.7 783.1 L886.1 783.0 L887.4 783.0 L888.7 783.0 L890.0 783.0 L891.4 783.0 L892.7 783.0 L894.0 783.0 L895.3 783.0 L896.7 783.0 L898.0 783.0" fill="none" stroke="#ff0000" stroke-width="10.5" stroke-linejoin="round"/>
<path d="M632.6 966.5 L634.0 962.4 L635.3 958.3 L636.6 954.3 L638.0 950.4 L639.3 946.4 L640.6 942.6 L641.9 938.8 L643.3 935.0 L644.6 931.3 L645.9 927.6 L647.2 924.0 L648.6 920.4 L649.9 916.9 L651.2 913.4 L652.5 910.0 L653.9 906.6 L655.2 903.3 L656.5 900.0 L657.9 896.7 L659.2 893.5 L660.5 890.3 L661.8 887.2 L663.2 884.1 L664.5 881.1 L665.8 878.1 L667.1 875.2 L668.5 872.2 L669.8 869.4 L671.1 866.5 L672.4 863.7 L673.8 861.0 L675.1 858.2 L676.4 855.6 L677.8 852.9 L679.1 850.3 L680.4 847.7 L681.7 845.2 L683.1 842.7 L684.4 840.2 L685.7 837.8 L687.0 835.4 L688.4 833.0 L689.7 830.7 L691.0 828.4 L692.3 826.1 L693.7 823.9 L695.0 821.7 L696.3 819.5 L697.7 817.4 L699.0 815.3 L700.3 813.2 L701.6 811.1 L703.0 809.1 L704.3 807.1 L705.6 805.2 L706.9 803.2 L708.3 801.3 L709.6 799.4 L710.9 797.6 L712.3 795.8 L713.6 794.0 L714.9 792.2 L716.2 790.5 L717.6 788.8 L718.9 787.1 L720.2 785.4 L721.5 783.8 L722.9 782.2 L724.2 780.6 L725.5 779.0 L726.8 777.5 L728.2 775.9 L729.5 774.4 L730.8 773.0 L732.2 771.5 L733.5 770.1 L734.8 768.7 L736.1 767.3 L737.5 766.0 L738.8 764.6 L740.1 763.3 L741.4 762.0 L742.8 760.7 L744.1 759.5 L745.4 758.3 L746.7 757.0 L748.1 755.9 L749.4 754.7 L750.7 753.5 L752.1 752.4 L753.4 751.3 L754.7 750.2 L756.0 749.1 L757.4 748.0 L758.7 747.0 L760.0 746.0 L761.3 745.0 L762.7 744.0 L764.0 743.0 L765.3 742.1 L766.6 741.1 L768.0 740.2 L769.3 739.3 L770.6 738.4 L772.0 737.5 L773.3 736.7 L774.6 735.8 L775.9 735.0 L777.3 734.2 L778.6 733.4 L779.9 732.6 L781.2 731.9 L782.6 731.1 L783.9 730.4 L785.2 729.6 L786.6 728.9 L787.9 728.2 L789.2 727.6 L790.5 726.9 L791.9 726.2 L793.2 725.6 L794.5 725.0 L795.8 724.4 L797.2 723.7 L798.5 723.2 L799.8 722.6 L801.1 722.0 L802.5 721.5 L803.8 720.9 L805.1 720.4 L806.5 719.9 L807.8 719.4 L809.1 718.9 L810.4 718.4 L811.8 717.9 L813.1 717.5 L814.4 717.0 L815.7 716.6 L817.1 716.1 L818.4 715.7 L819.7 715.3 L821.0 714.9 L822.4 714.5 L823.7 714.2 L825.0 713.8 L826.4 713.4 L827.7 713.1 L829.0 712.7 L830.3 712.4 L831.7 712.1 L833.0 711.8 L834.3 711.5 L835.6 711.2 L837.0 710.9 L838.3 710.6 L839.6 710.3 L840.9 710.1 L842.3 709.8 L843.6 709.6 L844.9 709.4 L846.3 709.1 L847.6 708.9 L848.9 708.7 L850.2 708.5 L851.6 708.3 L852.9 708.1 L854.2 707.9 L855.5 707.8 L856.9 707.6 L858.2 707.4 L859.5 707.3 L860.9 707.1 L862.2 707.0 L863.5 706.9 L864.8 706.7 L866.2 706.6 L867.5 706.5 L868.8 706.4 L870.1 706.3 L871.5 706.2 L872.8 706.1 L874.1 706.1 L875.4 706.0 L876.8 705.9 L878.1 705.9 L879.4 705.8 L880.8 705.7 L882.1 705.7 L883.4 705.7 L884.7 705.6 L886.1 705.6 L887.4 705.6 L888.7 705.6 L890.0 705.5 L891.4 705.5 L892.7 705.5 L894.0 705.5 L895.3 705.5 L896.7 705.6 L898.0 705.6" fill="none" stroke="#ff0000" stroke-width="10.5" stroke-linejoin="round"/>
<path d="M632.6 1178.6 L634.0 1166.3 L635.3 1154.0 L636.6 1142.0 L638.0 1130.1 L639.3 1118.3 L640.6 1106.7 L641.9 1095.3 L643.3 1084.0 L644.6 1072.8 L645.9 1061.8 L647.2 1051.0 L648.6 1040.2 L649.9 1029.7 L651.2 1019.2 L652.5 1009.0 L653.9 998.8 L655.2 988.8 L656.5 978.9 L657.9 969.1 L659.2 959.5 L660.5 950.0 L661.8 940.7 L663.2 931.4 L664.5 922.3 L665.8 913.3 L667.1 904.5 L668.5 895.7 L669.8 887.1 L671.1 878.6 L672.4 870.2 L673.8 861.9 L675.1 853.7 L676.4 845.7 L677.8 837.7 L679.1 829.9 L680.4 822.2 L681.7 814.6 L683.1 807.0 L684.4 799.6 L685.7 792.3 L687.0 785.1 L688.4 778.0 L689.7 771.0 L691.0 764.2 L692.3 757.3 L693.7 750.6 L695.0 744.0 L696.3 737.5 L697.7 731.1 L699.0 724.8 L700.3 718.5 L701.6 712.4 L703.0 706.3 L704.3 700.4 L705.6 694.5 L706.9 688.7 L708.3 683.0 L709.6 677.3 L710.9 671.8 L712.3 666.3 L713.6 660.9 L714.9 655.6 L716.2 650.4 L717.6 645.3 L718.9 640.2 L720.2 635.2 L721.5 630.3 L722.9 625.5 L724.2 620.7 L725.5 616.0 L726.8 611.4 L728.2 606.8 L729.5 602.3 L730.8 597.9 L732.2 593.6 L733.5 589.3 L734.8 585.1 L736.1 581.0 L737.5 576.9 L738.8 572.9 L740.1 568.9 L741.4 565.0 L742.8 561.2 L744.1 557.5 L745.4 553.8 L746.7 550.1 L748.1 546.6 L749.4 543.0 L750.7 539.6 L752.1 536.2 L753.4 532.8 L754.7 529.5 L756.0 526.3 L757.4 523.1 L758.7 520.0 L760.0 516.9 L761.3 513.9 L762.7 510.9 L764.0 508.0 L765.3 505.2 L766.6 502.3 L768.0 499.6 L769.3 496.9 L770.6 494.2 L772.0 491.6 L773.3 489.0 L774.6 486.5 L775.9 484.0 L777.3 481.6 L778.6 479.2 L779.9 476.9 L781.2 474.6 L782.6 472.3 L783.9 470.1 L785.2 467.9 L786.6 465.8 L787.9 463.7 L789.2 461.7 L790.5 459.7 L791.9 457.7 L793.2 455.8 L794.5 453.9 L795.8 452.1 L797.2 450.2 L798.5 448.5 L799.8 446.7 L801.1 445.1 L802.5 443.4 L803.8 441.8 L805.1 440.2 L806.5 438.6 L807.8 437.1 L809.1 435.6 L810.4 434.2 L811.8 432.8 L813.1 431.4 L814.4 430.0 L815.7 428.7 L817.1 427.4 L818.4 426.2 L819.7 424.9 L821.0 423.8 L822.4 422.6 L823.7 421.5 L825.0 420.4 L826.4 419.3 L827.7 418.2 L829.0 417.2 L830.3 416.2 L831.7 415.3 L833.0 414.3 L834.3 413.4 L835.6 412.5 L837.0 411.7 L838.3 410.9 L839.6 410.0 L840.9 409.3 L842.3 408.5 L843.6 407.8 L844.9 407.1 L846.3 406.4 L847.6 405.7 L848.9 405.1 L850.2 404.5 L851.6 403.9 L852.9 403.4 L854.2 402.8 L855.5 402.3 L856.9 401.8 L858.2 401.3 L859.5 400.9 L860.9 400.4 L862.2 400.0 L863.5 399.6 L864.8 399.2 L866.2 398.9 L867.5 398.6 L868.8 398.2 L870.1 397.9 L871.5 397.7 L872.8 397.4 L874.1 397.2 L875.4 396.9 L876.8 396.7 L878.1 396.6 L879.4 396.4 L880.8 396.2 L882.1 396.1 L883.4 396.0 L884.7 395.9 L886.1 395.8 L887.4 395.7 L888.7 395.7 L890.0 395.6 L891.4 395.6 L892.7 395.6 L894.0 395.6 L895.3 395.6 L896.7 395.7 L898.0 395.7" fill="none" stroke="#ff0000" stroke-width="10.5" stroke-linejoin="round"/>
<path d="M632.6 1390.7 L634.0 1370.1 L635.3 1349.7 L636.6 1329.6 L638.0 1309.8 L639.3 1290.2 L640.6 1270.8 L641.9 1251.8 L643.3 1232.9 L644.6 1214.4 L645.9 1196.0 L647.2 1177.9 L648.6 1160.1 L649.9 1142.5 L651.2 1125.1 L652.5 1107.9 L653.9 1091.0 L655.2 1074.3 L656.5 1057.8 L657.9 1041.6 L659.2 1025.5 L660.5 1009.7 L661.8 994.1 L663.2 978.7 L664.5 963.5 L665.8 948.5 L667.1 933.8 L668.5 919.2 L669.8 904.8 L671.1 890.6 L672.4 876.6 L673.8 862.8 L675.1 849.2 L676.4 835.8 L677.8 822.6 L679.1 809.5 L680.4 796.6 L681.7 783.9 L683.1 771.4 L684.4 759.1 L685.7 746.9 L687.0 734.9 L688.4 723.1 L689.7 711.4 L691.0 699.9 L692.3 688.6 L693.7 677.4 L695.0 666.4 L696.3 655.5 L697.7 644.8 L699.0 634.3 L700.3 623.9 L701.6 613.6 L703.0 603.5 L704.3 593.6 L705.6 583.8 L706.9 574.1 L708.3 564.6 L709.6 555.2 L710.9 546.0 L712.3 536.9 L713.6 527.9 L714.9 519.1 L716.2 510.4 L717.6 501.8 L718.9 493.3 L720.2 485.0 L721.5 476.8 L722.9 468.8 L724.2 460.8 L725.5 453.0 L726.8 445.3 L728.2 437.7 L729.5 430.2 L730.8 422.9 L732.2 415.6 L733.5 408.5 L734.8 401.5 L736.1 394.6 L737.5 387.8 L738.8 381.1 L740.1 374.6 L741.4 368.1 L742.8 361.7 L744.1 355.4 L745.4 349.3 L746.7 343.2 L748.1 337.3 L749.4 331.4 L750.7 325.6 L752.1 320.0 L753.4 314.4 L754.7 308.9 L756.0 303.5 L757.4 298.2 L758.7 293.0 L760.0 287.9 L761.3 282.8 L762.7 277.9 L764.0 273.0 L765.3 268.3 L766.6 263.6 L768.0 259.0 L769.3 254.4 L770.6 250.0 L772.0 245.6 L773.3 241.4 L774.6 237.1 L775.9 233.0 L777.3 229.0 L778.6 225.0 L779.9 221.1 L781.2 217.3 L782.6 213.5 L783.9 209.8 L785.2 206.2 L786.6 202.7 L787.9 199.2 L789.2 195.8 L790.5 192.4 L791.9 189.2 L793.2 186.0 L794.5 182.8 L795.8 179.8 L797.2 176.7 L798.5 173.8 L799.8 170.9 L801.1 168.1 L802.5 165.3 L803.8 162.6 L805.1 160.0 L806.5 157.4 L807.8 154.9 L809.1 152.4 L810.4 150.0 L811.8 147.6 L813.1 145.3 L814.4 143.1 L815.7 140.9 L817.1 138.7 L818.4 136.6 L819.7 134.6 L821.0 132.6 L822.4 130.7 L823.7 128.8 L825.0 126.9 L826.4 125.1 L827.7 123.4 L829.0 121.7 L830.3 120.0 L831.7 118.4 L833.0 116.9 L834.3 115.4 L835.6 113.9 L837.0 112.5 L838.3 111.1 L839.6 109.7 L840.9 108.4 L842.3 107.2 L843.6 106.0 L844.9 104.8 L846.3 103.7 L847.6 102.6 L848.9 101.5 L850.2 100.5 L851.6 99.5 L852.9 98.6 L854.2 97.7 L855.5 96.8 L856.9 96.0 L858.2 95.2 L859.5 94.4 L860.9 93.7 L862.2 93.0 L863.5 92.4 L864.8 91.7 L866.2 91.1 L867.5 90.6 L868.8 90.1 L870.1 89.6 L871.5 89.1 L872.8 88.7 L874.1 88.3 L875.4 87.9 L876.8 87.6 L878.1 87.3 L879.4 87.0 L880.8 86.7 L882.1 86.5 L883.4 86.3 L884.7 86.1 L886.1 86.0 L887.4 85.9 L888.7 85.8 L890.0 85.7 L891.4 85.7 L892.7 85.7 L894.0 85.7 L895.3 85.7 L896.7 85.8 L898.0 85.8" fill="none" stroke="#ff0000" stroke-width="10.5" stroke-linejoin="round"/>
<line x1="886.7" y1="75.4" x2="886.7" y2="1483" stroke="#0000ff" stroke-width="10.5" stroke-dasharray="33.3 11.03"/>
</g>
<path d="M623 85 Q636 86 646 98" fill="none" stroke="#000" stroke-width="6" stroke-linecap="round"/>
<path d="M880 99 L945 86" fill="none" stroke="#000" stroke-width="5" stroke-linecap="round"/>
<path d="M681 281.6H2196.5V265.2L2244 289.6L2196.5 314.4V297.6H681Z" fill="#008000"/>
<path d="M681 508.2H368.5V491.8L320.5 516.2L368.5 540.8V524.2H681Z" fill="#008000"/>
<rect x="328.1" y="347.5" width="324.6" height="116.3" fill="#fff" stroke="#000" stroke-width="5.4"/>
<rect x="1399.7" y="142.1" width="324.6" height="116.3" fill="#fff" stroke="#000" stroke-width="5.4"/>
<text class="serif" x="329" y="436.3" font-size="77" fill="#000" textLength="311" lengthAdjust="spacingAndGlyphs">Repulsion</text>
<text class="serif" x="1404" y="231" font-size="77" fill="#000" textLength="304" lengthAdjust="spacingAndGlyphs">Attraction</text>
<g class="serif" fill="#000"><text x="1036.0" y="166.6" font-size="77" font-style="italic">η</text><text transform="translate(1070.7 160.7) scale(1.13 .8)" font-size="77" fill="#1c1c1c" stroke="#1c1c1c" stroke-width="1.5">=</text><text x="1114.8" y="166.6" font-size="80" letter-spacing="-1.5">50</text></g>
<g class="serif" fill="#000"><text x="948.7" y="389.6" font-size="77" font-style="italic">η</text><text transform="translate(983.4 383.7) scale(1.13 .8)" font-size="77" fill="#1c1c1c" stroke="#1c1c1c" stroke-width="1.5">=</text><text x="1027.5" y="389.6" font-size="80" letter-spacing="-1.5">30</text></g>
<g class="serif" fill="#000"><text x="936.0" y="682.3" font-size="77" font-style="italic">η</text><text transform="translate(970.7 676.4) scale(1.13 .8)" font-size="77" fill="#1c1c1c" stroke="#1c1c1c" stroke-width="1.5">=</text><text x="1014.8" y="682.3" font-size="80" letter-spacing="-1.8">10</text></g>
<g class="serif" fill="#000"><text x="914.4" y="775" font-size="77" font-style="italic">η</text><text transform="translate(949.1 769.1) scale(1.13 .8)" font-size="77" fill="#1c1c1c" stroke="#1c1c1c" stroke-width="1.5">=</text><text x="993.2" y="775" font-size="80" letter-spacing="-1.5">5</text></g>
<g class="serif" fill="#000"><text x="928.4" y="840.7" font-size="77" font-style="italic">η</text><text transform="translate(963.1 834.8) scale(1.13 .8)" font-size="77" fill="#1c1c1c" stroke="#1c1c1c" stroke-width="1.5">=</text><text x="1011.2" y="840.7" font-size="80" letter-spacing="-1.5">1</text></g>
<text class="sans" transform="translate(294.5 112.0) scale(0.955 1)" font-size="75" text-anchor="end" fill="#000">5</text>
<text class="sans" transform="translate(294.5 261.2) scale(0.955 1)" font-size="75" text-anchor="end" fill="#000">4</text>
<text class="sans" transform="translate(294.5 416.4) scale(0.955 1)" font-size="75" text-anchor="end" fill="#000">3</text>
<text class="sans" transform="translate(294.5 572.0) scale(0.955 1)" font-size="75" text-anchor="end" fill="#000">2</text>
<text class="sans" transform="translate(294.5 727.4) scale(0.955 1)" font-size="75" text-anchor="end" fill="#000">1</text>
<text class="sans" transform="translate(294.5 877.6) scale(0.955 1)" font-size="75" text-anchor="end" fill="#000">0</text>
<text class="sans" transform="translate(294.5 1032.6) scale(0.955 1)" font-size="75" text-anchor="end" fill="#000">-1</text>
<text class="sans" transform="translate(294.5 1188.1) scale(0.955 1)" font-size="75" text-anchor="end" fill="#000">-2</text>
<text class="sans" transform="translate(294.5 1343.4) scale(0.955 1)" font-size="75" text-anchor="end" fill="#000">-3</text>
<text class="sans" transform="translate(294.5 1497.8) scale(0.955 1)" font-size="75" text-anchor="end" fill="#000">-4</text>
<text class="sans" transform="translate(315 1560.3) scale(0.955 1)" font-size="75" text-anchor="middle" fill="#000">0.9</text>
<text class="sans" transform="translate(458 1560.3) scale(0.955 1)" font-size="75" text-anchor="middle" fill="#000">1</text>
<text class="sans" transform="translate(636 1560.3) scale(0.955 1)" font-size="75" text-anchor="middle" fill="#000">1.1</text>
<text class="sans" transform="translate(670 1560.3) scale(0.955 1)" font-size="75" text-anchor="middle" fill="#000">1.12</text>
<text class="sans" transform="translate(892 1560.3) scale(0.955 1)" font-size="75" text-anchor="middle" fill="#000">1.24</text>
<text class="sans" transform="translate(1354 1560.3) scale(0.955 1)" font-size="75" text-anchor="middle" fill="#000">1.5</text>
<text class="sans" transform="translate(2250 1560.3) scale(0.955 1)" font-size="75" text-anchor="middle" fill="#000">2</text>
<text class="serif" x="1252" y="1664" font-size="78" fill="#000">h</text>
<text class="serif" transform="translate(178.8 868) rotate(-90)" font-size="76" letter-spacing="2.9" fill="#000">F'(h)</text>
<rect x="31.75" y="41.4" width="2422.75" height="1622.3" fill="none" stroke="#000" stroke-width="7.2"/>
</svg></body></html>
